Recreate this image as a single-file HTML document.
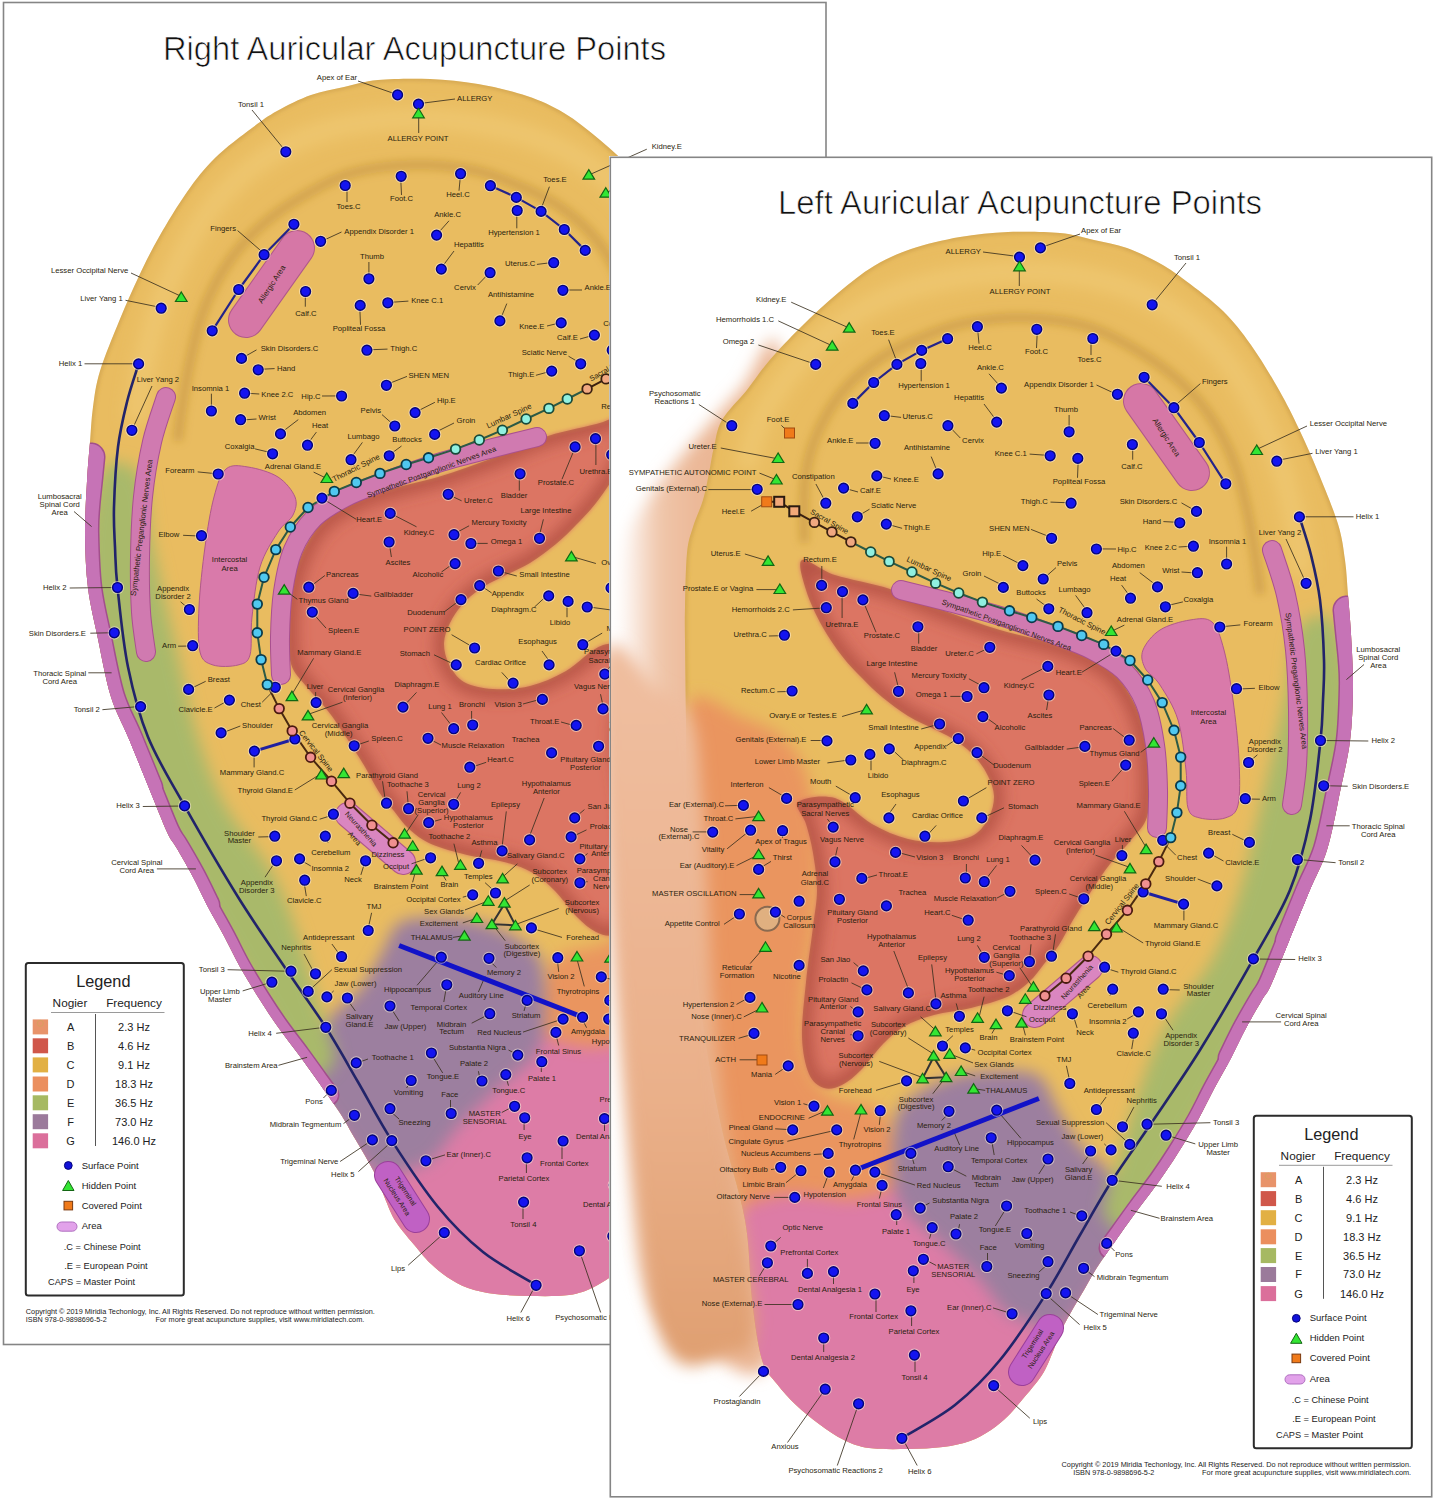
<!DOCTYPE html>
<html><head><meta charset="utf-8"><title>Auricular Acupuncture Points</title>
<style>
html,body{margin:0;padding:0;background:#fff;}
body{width:1435px;height:1500px;overflow:hidden;}
svg{display:block;}
text{font-family:"Liberation Sans",sans-serif;}
</style></head><body>

<svg width="1435" height="1500" viewBox="0 0 1435 1500">
<defs>
<filter id="b2" x="-20%" y="-20%" width="140%" height="140%"><feGaussianBlur stdDeviation="2"/></filter>
<filter id="b4" x="-20%" y="-20%" width="140%" height="140%"><feGaussianBlur stdDeviation="4"/></filter>
<filter id="b8" x="-20%" y="-20%" width="140%" height="140%"><feGaussianBlur stdDeviation="8"/></filter>
<filter id="b14" x="-20%" y="-20%" width="140%" height="140%"><feGaussianBlur stdDeviation="14"/></filter>
<clipPath id="clipL"><path d="M4,3.5 H825 V156 H609 V1343.5 H4 Z"/></clipPath>
<clipPath id="clipEar"><path d="M685,640 C684.8,621.2 684.7,621.5 685,607 C685.3,592.5 685.7,566.3 687,553 C688.3,539.7 690.3,535.8 693,527 C695.7,518.2 700.3,509.0 703,500 C705.7,491.0 707.2,481.8 709,473 C710.8,464.2 711.8,455.8 714,447 C716.2,438.2 716.5,429.5 722,420 C727.5,410.5 739.2,399.8 747,390 C754.8,380.2 760.0,371.5 769,361 C778.0,350.5 789.5,338.3 801,327 C812.5,315.7 825.8,303.2 838,293 C850.2,282.8 861.8,273.3 874,266 C886.2,258.7 896.7,253.8 911,249 C925.3,244.2 943.8,239.8 960,237 C976.2,234.2 991.3,232.7 1008,232 C1024.7,231.3 1045.7,231.7 1060,233 C1074.3,234.3 1082.8,237.5 1094,240 C1105.2,242.5 1115.8,244.0 1127,248 C1138.2,252.0 1151.2,258.5 1161,264 C1170.8,269.5 1175.7,273.2 1186,281 C1196.3,288.8 1212.2,300.3 1223,311 C1233.8,321.7 1241.7,331.8 1251,345 C1260.3,358.2 1271.0,376.0 1279,390 C1287.0,404.0 1292.5,415.3 1299,429 C1305.5,442.7 1311.5,456.2 1318,472 C1324.5,487.8 1333.5,509.3 1338,524 C1342.5,538.7 1343.3,548.2 1345,560 C1346.7,571.8 1347.0,582.7 1348,595 C1349.0,607.3 1350.2,618.7 1351,634 C1351.8,649.3 1353.2,669.2 1353,687 C1352.8,704.8 1352.2,723.5 1350,741 C1347.8,758.5 1343.8,773.8 1340,792 C1336.2,810.2 1332.2,833.3 1327,850 C1321.8,866.7 1315.3,876.8 1309,892 C1302.7,907.2 1295.3,925.5 1289,941 C1282.7,956.5 1275.5,975.2 1271,985 C1266.5,994.8 1266.2,992.8 1262,1000 C1257.8,1007.2 1251.2,1018.3 1246,1028 C1240.8,1037.7 1236.3,1047.8 1231,1058 C1225.7,1068.2 1219.5,1078.7 1214,1089 C1208.5,1099.3 1204.0,1109.3 1198,1120 C1192.0,1130.7 1184.3,1143.0 1178,1153 C1171.7,1163.0 1166.5,1170.8 1160,1180 C1153.5,1189.2 1145.5,1199.2 1139,1208 C1132.5,1216.8 1127.8,1223.3 1121,1233 C1114.2,1242.7 1104.2,1256.5 1098,1266 C1091.8,1275.5 1088.7,1282.0 1084,1290 C1079.3,1298.0 1074.0,1306.8 1070,1314 C1066.0,1321.2 1063.0,1326.3 1060,1333 C1057.0,1339.7 1055.0,1347.0 1052,1354 C1049.0,1361.0 1047.0,1367.3 1042,1375 C1037.0,1382.7 1027.7,1393.2 1022,1400 C1016.3,1406.8 1013.2,1411.0 1008,1416 C1002.8,1421.0 997.3,1425.8 991,1430 C984.7,1434.2 978.0,1438.2 970,1441 C962.0,1443.8 953.3,1445.7 943,1447 C932.7,1448.3 920.3,1448.8 908,1449 C895.7,1449.2 879.7,1449.5 869,1448 C858.3,1446.5 852.3,1444.0 844,1440 C835.7,1436.0 827.0,1429.8 819,1424 C811.0,1418.2 803.0,1411.7 796,1405 C789.0,1398.3 782.7,1391.5 777,1384 C771.3,1376.5 766.2,1374.0 762,1360 C757.8,1346.0 754.8,1323.3 752,1300 C749.2,1276.7 750.3,1250.0 745,1220 C739.7,1190.0 727.5,1156.7 720,1120 C712.5,1083.3 705.3,1045.0 700,1000 C694.7,955.0 690.3,896.7 688,850 C685.7,803.3 686.5,755.0 686,720 C685.5,685.0 685.2,658.8 685,640 Z"/></clipPath>
<linearGradient id="gskin" x1="618" y1="0" x2="700" y2="0" gradientUnits="userSpaceOnUse"><stop offset="0" stop-color="#ffffff"/><stop offset="0.15" stop-color="#fbefe8"/><stop offset="0.5" stop-color="#f0c6aa"/><stop offset="1" stop-color="#ebb796"/></linearGradient>
<linearGradient id="gsoft" x1="0" y1="700" x2="0" y2="1350" gradientUnits="userSpaceOnUse"><stop offset="0" stop-color="#efbd9e"/><stop offset="0.6" stop-color="#eab08a"/><stop offset="1" stop-color="#e0a072"/></linearGradient>
<clipPath id="clipRed"><path d="M802,560 C806.8,557.5 820.3,570.2 835,575 C849.7,579.8 871.7,583.0 890,589 C908.3,595.0 926.7,604.2 945,611 C963.3,617.8 981.7,624.5 1000,630 C1018.3,635.5 1039.7,639.2 1055,644 C1070.3,648.8 1081.7,653.5 1092,659 C1102.3,664.5 1109.7,669.0 1117,677 C1124.3,685.0 1131.0,696.0 1136,707 C1141.0,718.0 1144.7,730.8 1147,743 C1149.3,755.2 1150.0,767.7 1150,780 C1150.0,792.3 1150.0,807.2 1147,817 C1144.0,826.8 1138.2,831.2 1132,839 C1125.8,846.8 1116.7,855.5 1110,864 C1103.3,872.5 1098.2,880.7 1092,890 C1085.8,899.3 1078.5,910.8 1073,920 C1067.5,929.2 1063.8,937.7 1059,945 C1054.2,952.3 1049.0,957.8 1044,964 C1039.0,970.2 1035.2,976.5 1029,982 C1022.8,987.5 1016.7,992.7 1007,997 C997.3,1001.3 983.2,1005.0 971,1008 C958.8,1011.0 945.0,1012.0 934,1015 C923.0,1018.0 913.5,1021.2 905,1026 C896.5,1030.8 890.3,1036.7 883,1044 C875.7,1051.3 867.8,1063.2 861,1070 C854.2,1076.8 848.2,1082.0 842,1085 C835.8,1088.0 829.5,1089.8 824,1088 C818.5,1086.2 812.7,1082.5 809,1074 C805.3,1065.5 802.5,1052.3 802,1037 C801.5,1021.7 804.2,1000.3 806,982 C807.8,963.7 811.2,942.3 813,927 C814.8,911.7 817.0,902.3 817,890 C817.0,877.7 814.8,864.0 813,853 C811.2,842.0 808.5,832.5 806,824 C803.5,815.5 793.2,806.3 798,802 C802.8,797.7 822.7,794.3 835,798 C847.3,801.7 859.8,817.2 872,824 C884.2,830.8 895.8,836.0 908,839 C920.2,842.0 934.0,842.7 945,842 C956.0,841.3 966.7,839.2 974,835 C981.3,830.8 985.7,823.5 989,817 C992.3,810.5 994.2,802.8 994,796 C993.8,789.2 991.0,782.3 988,776 C985.0,769.7 981.0,763.7 976,758 C971.0,752.3 964.7,746.7 958,742 C951.3,737.3 944.3,734.3 936,730 C927.7,725.7 917.0,721.5 908,716 C899.0,710.5 889.7,703.3 882,697 C874.3,690.7 868.7,684.8 862,678 C855.3,671.2 848.7,664.7 842,656 C835.3,647.3 828.0,637.0 822,626 C816.0,615.0 809.3,601.0 806,590 C802.7,579.0 797.2,562.5 802,560 Z"/></clipPath>
<clipPath id="clipR"><rect x="611" y="158" width="820" height="1338"/></clipPath>
<g id="ear">
<path d="M780,350 C772.0,314.7 754.3,375.0 742,388 C729.7,401.0 718.0,414.3 706,428 C694.0,441.7 680.7,456.3 670,470 C659.3,483.7 649.5,495.8 642,510 C634.5,524.2 629.0,523.3 625,555 C621.0,586.7 618.8,634.2 618,700 C617.2,765.8 618.7,866.7 620,950 C621.3,1033.3 621.8,1143.0 626,1200 C630.2,1257.0 636.8,1270.0 645,1292 C653.2,1314.0 665.0,1322.0 675,1332 C685.0,1342.0 688.8,1348.0 705,1352 C721.2,1356.0 757.8,1398.0 772,1356 C786.2,1314.0 787.0,1226.0 790,1100 C793.0,974.0 791.7,725.0 790,600 C788.3,475.0 788.0,385.3 780,350 Z" fill="url(#gskin)" filter="url(#b8)"/>
<path d="M685,640 C684.8,621.2 684.7,621.5 685,607 C685.3,592.5 685.7,566.3 687,553 C688.3,539.7 690.3,535.8 693,527 C695.7,518.2 700.3,509.0 703,500 C705.7,491.0 707.2,481.8 709,473 C710.8,464.2 711.8,455.8 714,447 C716.2,438.2 716.5,429.5 722,420 C727.5,410.5 739.2,399.8 747,390 C754.8,380.2 760.0,371.5 769,361 C778.0,350.5 789.5,338.3 801,327 C812.5,315.7 825.8,303.2 838,293 C850.2,282.8 861.8,273.3 874,266 C886.2,258.7 896.7,253.8 911,249 C925.3,244.2 943.8,239.8 960,237 C976.2,234.2 991.3,232.7 1008,232 C1024.7,231.3 1045.7,231.7 1060,233 C1074.3,234.3 1082.8,237.5 1094,240 C1105.2,242.5 1115.8,244.0 1127,248 C1138.2,252.0 1151.2,258.5 1161,264 C1170.8,269.5 1175.7,273.2 1186,281 C1196.3,288.8 1212.2,300.3 1223,311 C1233.8,321.7 1241.7,331.8 1251,345 C1260.3,358.2 1271.0,376.0 1279,390 C1287.0,404.0 1292.5,415.3 1299,429 C1305.5,442.7 1311.5,456.2 1318,472 C1324.5,487.8 1333.5,509.3 1338,524 C1342.5,538.7 1343.3,548.2 1345,560 C1346.7,571.8 1347.0,582.7 1348,595 C1349.0,607.3 1350.2,618.7 1351,634 C1351.8,649.3 1353.2,669.2 1353,687 C1352.8,704.8 1352.2,723.5 1350,741 C1347.8,758.5 1343.8,773.8 1340,792 C1336.2,810.2 1332.2,833.3 1327,850 C1321.8,866.7 1315.3,876.8 1309,892 C1302.7,907.2 1295.3,925.5 1289,941 C1282.7,956.5 1275.5,975.2 1271,985 C1266.5,994.8 1266.2,992.8 1262,1000 C1257.8,1007.2 1251.2,1018.3 1246,1028 C1240.8,1037.7 1236.3,1047.8 1231,1058 C1225.7,1068.2 1219.5,1078.7 1214,1089 C1208.5,1099.3 1204.0,1109.3 1198,1120 C1192.0,1130.7 1184.3,1143.0 1178,1153 C1171.7,1163.0 1166.5,1170.8 1160,1180 C1153.5,1189.2 1145.5,1199.2 1139,1208 C1132.5,1216.8 1127.8,1223.3 1121,1233 C1114.2,1242.7 1104.2,1256.5 1098,1266 C1091.8,1275.5 1088.7,1282.0 1084,1290 C1079.3,1298.0 1074.0,1306.8 1070,1314 C1066.0,1321.2 1063.0,1326.3 1060,1333 C1057.0,1339.7 1055.0,1347.0 1052,1354 C1049.0,1361.0 1047.0,1367.3 1042,1375 C1037.0,1382.7 1027.7,1393.2 1022,1400 C1016.3,1406.8 1013.2,1411.0 1008,1416 C1002.8,1421.0 997.3,1425.8 991,1430 C984.7,1434.2 978.0,1438.2 970,1441 C962.0,1443.8 953.3,1445.7 943,1447 C932.7,1448.3 920.3,1448.8 908,1449 C895.7,1449.2 879.7,1449.5 869,1448 C858.3,1446.5 852.3,1444.0 844,1440 C835.7,1436.0 827.0,1429.8 819,1424 C811.0,1418.2 803.0,1411.7 796,1405 C789.0,1398.3 782.7,1391.5 777,1384 C771.3,1376.5 766.2,1374.0 762,1360 C757.8,1346.0 754.8,1323.3 752,1300 C749.2,1276.7 750.3,1250.0 745,1220 C739.7,1190.0 727.5,1156.7 720,1120 C712.5,1083.3 705.3,1045.0 700,1000 C694.7,955.0 690.3,896.7 688,850 C685.7,803.3 686.5,755.0 686,720 C685.5,685.0 685.2,658.8 685,640 Z" fill="#e9bc60"/>
<g clip-path="url(#clipEar)">
<path d="M745,470 C747.5,461.7 753.3,435.0 760,420 C766.7,405.0 775.0,393.3 785,380 C795.0,366.7 805.8,352.5 820,340 C834.2,327.5 851.7,314.5 870,305 C888.3,295.5 906.7,288.5 930,283 C953.3,277.5 983.3,272.8 1010,272 C1036.7,271.2 1066.7,273.7 1090,278 C1113.3,282.3 1132.0,289.3 1150,298 C1168.0,306.7 1183.8,317.7 1198,330 C1212.2,342.3 1224.3,357.0 1235,372 C1245.7,387.0 1254.2,403.7 1262,420 C1269.8,436.3 1276.5,452.5 1282,470 C1287.5,487.5 1291.7,507.5 1295,525 C1298.3,542.5 1300.8,566.7 1302,575" fill="none" stroke="#f1cd78" stroke-opacity="0.6" stroke-width="22" filter="url(#b8)"/>
<path d="M804.2,542.8 C804.3,532.9 803.0,500.4 804.7,483.4 C806.4,466.4 808.6,455.3 814.3,440.8 C820.0,426.3 828.8,409.2 838.8,396.2 C848.8,383.1 861.2,371.9 874.2,362.5 C887.2,353.1 901.3,346.3 916.6,339.7 C931.9,333.1 947.1,326.5 966.0,322.9 C984.9,319.3 1009.5,317.3 1030.1,318.0 C1050.6,318.7 1071.4,321.5 1089.3,327.0 C1107.2,332.5 1123.7,342.7 1137.7,350.8 C1151.7,358.9 1162.6,366.8 1173.1,375.6 C1183.6,384.4 1192.4,393.3 1200.6,403.4 C1208.8,413.5 1216.2,425.0 1222.2,436.1 C1228.2,447.2 1232.6,457.2 1236.8,469.8 C1241.0,482.4 1244.3,497.6 1247.3,511.4 C1250.3,525.2 1252.7,539.0 1254.9,552.8 C1257.1,566.6 1259.6,587.3 1260.5,594.2" fill="none" stroke="#a06a22" stroke-opacity="0.32" stroke-width="9" filter="url(#b4)"/>
<path d="M685,640 C684.8,621.2 684.7,621.5 685,607 C685.3,592.5 685.7,566.3 687,553 C688.3,539.7 690.3,535.8 693,527 C695.7,518.2 700.3,509.0 703,500 C705.7,491.0 707.2,481.8 709,473 C710.8,464.2 711.8,455.8 714,447 C716.2,438.2 716.5,429.5 722,420 C727.5,410.5 739.2,399.8 747,390 C754.8,380.2 760.0,371.5 769,361 C778.0,350.5 789.5,338.3 801,327 C812.5,315.7 825.8,303.2 838,293 C850.2,282.8 861.8,273.3 874,266 C886.2,258.7 896.7,253.8 911,249 C925.3,244.2 943.8,239.8 960,237 C976.2,234.2 991.3,232.7 1008,232 C1024.7,231.3 1045.7,231.7 1060,233 C1074.3,234.3 1082.8,237.5 1094,240 C1105.2,242.5 1115.8,244.0 1127,248 C1138.2,252.0 1151.2,258.5 1161,264 C1170.8,269.5 1175.7,273.2 1186,281 C1196.3,288.8 1212.2,300.3 1223,311 C1233.8,321.7 1241.7,331.8 1251,345 C1260.3,358.2 1271.0,376.0 1279,390 C1287.0,404.0 1292.5,415.3 1299,429 C1305.5,442.7 1311.5,456.2 1318,472 C1324.5,487.8 1333.5,509.3 1338,524 C1342.5,538.7 1343.3,548.2 1345,560 C1346.7,571.8 1347.0,582.7 1348,595 C1349.0,607.3 1350.2,618.7 1351,634 C1351.8,649.3 1353.2,669.2 1353,687 C1352.8,704.8 1352.2,723.5 1350,741 C1347.8,758.5 1343.8,773.8 1340,792 C1336.2,810.2 1332.2,833.3 1327,850 C1321.8,866.7 1315.3,876.8 1309,892 C1302.7,907.2 1295.3,925.5 1289,941 C1282.7,956.5 1275.5,975.2 1271,985 C1266.5,994.8 1266.2,992.8 1262,1000 C1257.8,1007.2 1251.2,1018.3 1246,1028 C1240.8,1037.7 1236.3,1047.8 1231,1058 C1225.7,1068.2 1219.5,1078.7 1214,1089 C1208.5,1099.3 1204.0,1109.3 1198,1120 C1192.0,1130.7 1184.3,1143.0 1178,1153 C1171.7,1163.0 1166.5,1170.8 1160,1180 C1153.5,1189.2 1145.5,1199.2 1139,1208 C1132.5,1216.8 1127.8,1223.3 1121,1233 C1114.2,1242.7 1104.2,1256.5 1098,1266 C1091.8,1275.5 1088.7,1282.0 1084,1290 C1079.3,1298.0 1074.0,1306.8 1070,1314 C1066.0,1321.2 1063.0,1326.3 1060,1333 C1057.0,1339.7 1055.0,1347.0 1052,1354 C1049.0,1361.0 1047.0,1367.3 1042,1375 C1037.0,1382.7 1027.7,1393.2 1022,1400 C1016.3,1406.8 1013.2,1411.0 1008,1416 C1002.8,1421.0 997.3,1425.8 991,1430 C984.7,1434.2 978.0,1438.2 970,1441 C962.0,1443.8 953.3,1445.7 943,1447 C932.7,1448.3 920.3,1448.8 908,1449 C895.7,1449.2 879.7,1449.5 869,1448 C858.3,1446.5 852.3,1444.0 844,1440 C835.7,1436.0 827.0,1429.8 819,1424 C811.0,1418.2 803.0,1411.7 796,1405 C789.0,1398.3 782.7,1391.5 777,1384 C771.3,1376.5 766.2,1374.0 762,1360 C757.8,1346.0 754.8,1323.3 752,1300 C749.2,1276.7 750.3,1250.0 745,1220 C739.7,1190.0 727.5,1156.7 720,1120 C712.5,1083.3 705.3,1045.0 700,1000 C694.7,955.0 690.3,896.7 688,850 C685.7,803.3 686.5,755.0 686,720 C685.5,685.0 685.2,658.8 685,640 Z" fill="none" stroke="#b8883a" stroke-opacity="0.6" stroke-width="3" filter="url(#b2)"/>
<path d="M688,705 C697.5,683.0 727.2,712.5 743,718 C758.8,723.5 772.7,729.3 783,738 C793.3,746.7 799.7,756.3 805,770 C810.3,783.7 812.8,801.7 815,820 C817.2,838.3 818.5,860.0 818,880 C817.5,900.0 814.5,920.0 812,940 C809.5,960.0 804.0,980.0 803,1000 C802.0,1020.0 801.5,1044.2 806,1060 C810.5,1075.8 817.7,1086.7 830,1095 C842.3,1103.3 868.3,1100.8 880,1110 C891.7,1119.2 896.7,1132.5 900,1150 C903.3,1167.5 908.3,1202.5 900,1215 C891.7,1227.5 868.3,1223.8 850,1225 C831.7,1226.2 806.7,1222.0 790,1222 C773.3,1222.0 761.7,1237.0 750,1225 C738.3,1213.0 729.2,1187.5 720,1150 C710.8,1112.5 700.7,1050.0 695,1000 C689.3,950.0 687.2,899.2 686,850 C684.8,800.8 678.5,727.0 688,705 Z" fill="#ea955e" filter="url(#b8)"/>
<path d="M735,1212 C748.3,1201.2 765.8,1197.7 780,1195 C794.2,1192.3 808.3,1195.2 820,1196 C831.7,1196.8 838.3,1201.0 850,1200 C861.7,1199.0 878.3,1194.7 890,1190 C901.7,1185.3 908.3,1177.0 920,1172 C931.7,1167.0 946.7,1160.7 960,1160 C973.3,1159.3 986.7,1162.2 1000,1168 C1013.3,1173.8 1026.7,1185.5 1040,1195 C1053.3,1204.5 1068.3,1216.2 1080,1225 C1091.7,1233.8 1098.3,1238.8 1110,1248 C1121.7,1257.2 1151.7,1239.7 1150,1280 C1148.3,1320.3 1175.0,1455.0 1100,1490 C1025.0,1525.0 766.7,1528.3 700,1490 C633.3,1451.7 694.2,1306.3 700,1260 C705.8,1213.7 721.7,1222.8 735,1212 Z" fill="#dd7ca6" filter="url(#b8)"/>
<path d="M894,1126 C896.3,1109.0 901.0,1105.5 912,1097 C923.0,1088.5 942.8,1079.3 960,1075 C977.2,1070.7 1001.5,1070.5 1015,1071 C1028.5,1071.5 1034.3,1072.5 1041,1078 C1047.7,1083.5 1049.0,1093.5 1055,1104 C1061.0,1114.5 1069.0,1130.8 1077,1141 C1085.0,1151.2 1095.0,1157.7 1103,1165 C1111.0,1172.3 1116.3,1180.0 1125,1185 C1133.7,1190.0 1152.5,1187.8 1155,1195 C1157.5,1202.2 1147.2,1216.8 1140,1228 C1132.8,1239.2 1120.7,1250.7 1112,1262 C1103.3,1273.3 1095.3,1286.0 1088,1296 C1080.7,1306.0 1074.7,1316.3 1068,1322 C1061.3,1327.7 1054.7,1330.0 1048,1330 C1041.3,1330.0 1035.2,1325.0 1028,1322 C1020.8,1319.0 1013.0,1319.0 1005,1312 C997.0,1305.0 990.5,1291.5 980,1280 C969.5,1268.5 955.7,1256.5 942,1243 C928.3,1229.5 906.0,1218.5 898,1199 C890.0,1179.5 891.7,1143.0 894,1126 Z" fill="#9c7f9f" filter="url(#b8)"/>
<path d="M1298,628 C1306.3,615.0 1326.0,610.0 1335,622 C1344.0,634.0 1350.3,670.3 1352,700 C1353.7,729.7 1349.5,773.3 1345,800 C1340.5,826.7 1333.3,836.7 1325,860 C1316.7,883.3 1306.7,913.3 1295,940 C1283.3,966.7 1267.5,996.7 1255,1020 C1242.5,1043.3 1231.7,1060.0 1220,1080 C1208.3,1100.0 1196.7,1120.0 1185,1140 C1173.3,1160.0 1159.5,1184.7 1150,1200 C1140.5,1215.3 1135.7,1229.5 1128,1232 C1120.3,1234.5 1107.3,1222.0 1104,1215 C1100.7,1208.0 1105.7,1199.2 1108,1190 C1110.3,1180.8 1113.0,1176.0 1118,1160 C1123.0,1144.0 1130.2,1116.2 1138,1094 C1145.8,1071.8 1152.7,1049.3 1165,1027 C1177.3,1004.7 1199.5,982.8 1212,960 C1224.5,937.2 1231.7,916.7 1240,890 C1248.3,863.3 1254.5,831.7 1262,800 C1269.5,768.3 1279.0,728.7 1285,700 C1291.0,671.3 1289.7,641.0 1298,628 Z" fill="#a9b96b" filter="url(#b8)"/>
<path d="M802,560 C806.8,557.5 820.3,570.2 835,575 C849.7,579.8 871.7,583.0 890,589 C908.3,595.0 926.7,604.2 945,611 C963.3,617.8 981.7,624.5 1000,630 C1018.3,635.5 1039.7,639.2 1055,644 C1070.3,648.8 1081.7,653.5 1092,659 C1102.3,664.5 1109.7,669.0 1117,677 C1124.3,685.0 1131.0,696.0 1136,707 C1141.0,718.0 1144.7,730.8 1147,743 C1149.3,755.2 1150.0,767.7 1150,780 C1150.0,792.3 1150.0,807.2 1147,817 C1144.0,826.8 1138.2,831.2 1132,839 C1125.8,846.8 1116.7,855.5 1110,864 C1103.3,872.5 1098.2,880.7 1092,890 C1085.8,899.3 1078.5,910.8 1073,920 C1067.5,929.2 1063.8,937.7 1059,945 C1054.2,952.3 1049.0,957.8 1044,964 C1039.0,970.2 1035.2,976.5 1029,982 C1022.8,987.5 1016.7,992.7 1007,997 C997.3,1001.3 983.2,1005.0 971,1008 C958.8,1011.0 945.0,1012.0 934,1015 C923.0,1018.0 913.5,1021.2 905,1026 C896.5,1030.8 890.3,1036.7 883,1044 C875.7,1051.3 867.8,1063.2 861,1070 C854.2,1076.8 848.2,1082.0 842,1085 C835.8,1088.0 829.5,1089.8 824,1088 C818.5,1086.2 812.7,1082.5 809,1074 C805.3,1065.5 802.5,1052.3 802,1037 C801.5,1021.7 804.2,1000.3 806,982 C807.8,963.7 811.2,942.3 813,927 C814.8,911.7 817.0,902.3 817,890 C817.0,877.7 814.8,864.0 813,853 C811.2,842.0 808.5,832.5 806,824 C803.5,815.5 793.2,806.3 798,802 C802.8,797.7 822.7,794.3 835,798 C847.3,801.7 859.8,817.2 872,824 C884.2,830.8 895.8,836.0 908,839 C920.2,842.0 934.0,842.7 945,842 C956.0,841.3 966.7,839.2 974,835 C981.3,830.8 985.7,823.5 989,817 C992.3,810.5 994.2,802.8 994,796 C993.8,789.2 991.0,782.3 988,776 C985.0,769.7 981.0,763.7 976,758 C971.0,752.3 964.7,746.7 958,742 C951.3,737.3 944.3,734.3 936,730 C927.7,725.7 917.0,721.5 908,716 C899.0,710.5 889.7,703.3 882,697 C874.3,690.7 868.7,684.8 862,678 C855.3,671.2 848.7,664.7 842,656 C835.3,647.3 828.0,637.0 822,626 C816.0,615.0 809.3,601.0 806,590 C802.7,579.0 797.2,562.5 802,560 Z" fill="#dc7463" filter="url(#b2)"/>
<g clip-path="url(#clipRed)"><path d="M802,560 C806.8,557.5 820.3,570.2 835,575 C849.7,579.8 871.7,583.0 890,589 C908.3,595.0 926.7,604.2 945,611 C963.3,617.8 981.7,624.5 1000,630 C1018.3,635.5 1039.7,639.2 1055,644 C1070.3,648.8 1081.7,653.5 1092,659 C1102.3,664.5 1109.7,669.0 1117,677 C1124.3,685.0 1131.0,696.0 1136,707 C1141.0,718.0 1144.7,730.8 1147,743 C1149.3,755.2 1150.0,767.7 1150,780 C1150.0,792.3 1150.0,807.2 1147,817 C1144.0,826.8 1138.2,831.2 1132,839 C1125.8,846.8 1116.7,855.5 1110,864 C1103.3,872.5 1098.2,880.7 1092,890 C1085.8,899.3 1078.5,910.8 1073,920 C1067.5,929.2 1063.8,937.7 1059,945 C1054.2,952.3 1049.0,957.8 1044,964 C1039.0,970.2 1035.2,976.5 1029,982 C1022.8,987.5 1016.7,992.7 1007,997 C997.3,1001.3 983.2,1005.0 971,1008 C958.8,1011.0 945.0,1012.0 934,1015 C923.0,1018.0 913.5,1021.2 905,1026 C896.5,1030.8 890.3,1036.7 883,1044 C875.7,1051.3 867.8,1063.2 861,1070 C854.2,1076.8 848.2,1082.0 842,1085 C835.8,1088.0 829.5,1089.8 824,1088 C818.5,1086.2 812.7,1082.5 809,1074 C805.3,1065.5 802.5,1052.3 802,1037 C801.5,1021.7 804.2,1000.3 806,982 C807.8,963.7 811.2,942.3 813,927 C814.8,911.7 817.0,902.3 817,890 C817.0,877.7 814.8,864.0 813,853 C811.2,842.0 808.5,832.5 806,824 C803.5,815.5 793.2,806.3 798,802 C802.8,797.7 822.7,794.3 835,798 C847.3,801.7 859.8,817.2 872,824 C884.2,830.8 895.8,836.0 908,839 C920.2,842.0 934.0,842.7 945,842 C956.0,841.3 966.7,839.2 974,835 C981.3,830.8 985.7,823.5 989,817 C992.3,810.5 994.2,802.8 994,796 C993.8,789.2 991.0,782.3 988,776 C985.0,769.7 981.0,763.7 976,758 C971.0,752.3 964.7,746.7 958,742 C951.3,737.3 944.3,734.3 936,730 C927.7,725.7 917.0,721.5 908,716 C899.0,710.5 889.7,703.3 882,697 C874.3,690.7 868.7,684.8 862,678 C855.3,671.2 848.7,664.7 842,656 C835.3,647.3 828.0,637.0 822,626 C816.0,615.0 809.3,601.0 806,590 C802.7,579.0 797.2,562.5 802,560 Z" fill="none" stroke="#a84638" stroke-opacity="0.75" stroke-width="18" filter="url(#b8)"/></g>
<path d="M1347,610 C1347.3,613.3 1348.2,621.7 1349,630 C1349.8,638.3 1351.3,650.5 1352,660 C1352.7,669.5 1353.3,673.5 1353,687 C1352.7,700.5 1352.2,723.5 1350,741 C1347.8,758.5 1343.8,773.8 1340,792 C1336.2,810.2 1332.2,833.3 1327,850 C1321.8,866.7 1315.3,876.8 1309,892 C1302.7,907.2 1292.3,932.8 1289,941" fill="none" stroke="#a24f8c" stroke-width="29" stroke-linecap="round"/>
<path d="M1309,892 C1305.7,900.2 1295.3,925.5 1289,941 C1282.7,956.5 1275.5,975.2 1271,985 C1266.5,994.8 1266.2,992.8 1262,1000 C1257.8,1007.2 1251.2,1018.3 1246,1028 C1240.8,1037.7 1233.5,1053.0 1231,1058" fill="none" stroke="#a24f8c" stroke-width="27" stroke-linecap="round"/>
<path d="M1246,1028 C1243.5,1033.0 1236.3,1047.8 1231,1058 C1225.7,1068.2 1219.5,1078.7 1214,1089 C1208.5,1099.3 1204.0,1109.3 1198,1120 C1192.0,1130.7 1184.3,1143.0 1178,1153 C1171.7,1163.0 1166.5,1170.8 1160,1180 C1153.5,1189.2 1145.5,1199.2 1139,1208 C1132.5,1216.8 1125.8,1226.3 1121,1233 C1116.2,1239.7 1111.8,1245.5 1110,1248" fill="none" stroke="#a24f8c" stroke-width="23" stroke-linecap="round"/>
<path d="M1347,610 C1347.3,613.3 1348.2,621.7 1349,630 C1349.8,638.3 1351.3,650.5 1352,660 C1352.7,669.5 1353.3,673.5 1353,687 C1352.7,700.5 1352.2,723.5 1350,741 C1347.8,758.5 1343.8,773.8 1340,792 C1336.2,810.2 1332.2,833.3 1327,850 C1321.8,866.7 1315.3,876.8 1309,892 C1302.7,907.2 1292.3,932.8 1289,941" fill="none" stroke="#c673b6" stroke-width="26" stroke-linecap="round"/>
<path d="M1309,892 C1305.7,900.2 1295.3,925.5 1289,941 C1282.7,956.5 1275.5,975.2 1271,985 C1266.5,994.8 1266.2,992.8 1262,1000 C1257.8,1007.2 1251.2,1018.3 1246,1028 C1240.8,1037.7 1233.5,1053.0 1231,1058" fill="none" stroke="#c673b6" stroke-width="24" stroke-linecap="round"/>
<path d="M1246,1028 C1243.5,1033.0 1236.3,1047.8 1231,1058 C1225.7,1068.2 1219.5,1078.7 1214,1089 C1208.5,1099.3 1204.0,1109.3 1198,1120 C1192.0,1130.7 1184.3,1143.0 1178,1153 C1171.7,1163.0 1166.5,1170.8 1160,1180 C1153.5,1189.2 1145.5,1199.2 1139,1208 C1132.5,1216.8 1125.8,1226.3 1121,1233 C1116.2,1239.7 1111.8,1245.5 1110,1248" fill="none" stroke="#c673b6" stroke-width="20" stroke-linecap="round"/>
</g>
<path d="M600,690 C601.7,588.3 644.7,685.0 660,690 C675.3,695.0 685.0,701.7 692,720 C699.0,738.3 699.3,770.0 702,800 C704.7,830.0 706.2,866.7 708,900 C709.8,933.3 710.7,966.7 713,1000 C715.3,1033.3 717.8,1066.7 722,1100 C726.2,1133.3 733.3,1170.0 738,1200 C742.7,1230.0 747.3,1258.3 750,1280 C752.7,1301.7 756.5,1318.0 754,1330 C751.5,1342.0 752.3,1357.0 735,1352 C717.7,1347.0 672.5,1410.3 650,1300 C627.5,1189.7 598.3,791.7 600,690 Z" fill="url(#gsoft)" filter="url(#b8)"/>
<line x1="1141" y1="401" x2="1192" y2="473" stroke="#b0588a" stroke-width="36" stroke-linecap="round"/><line x1="1141" y1="401" x2="1192" y2="473" stroke="#d677a6" stroke-width="34" stroke-linecap="round"/>
<path d="M1143,650 C1145.5,643.7 1152.2,635.0 1160,630 C1167.8,625.0 1181.3,621.3 1190,620 C1198.7,618.7 1206.3,617.0 1212,622 C1217.7,627.0 1220.5,637.0 1224,650 C1227.5,663.0 1230.5,681.7 1233,700 C1235.5,718.3 1238.2,742.5 1239,760 C1239.8,777.5 1240.3,795.3 1238,805 C1235.7,814.7 1231.3,815.8 1225,818 C1218.7,820.2 1206.2,819.7 1200,818 C1193.8,816.3 1190.3,816.0 1188,808 C1185.7,800.0 1187.7,784.7 1186,770 C1184.3,755.3 1182.3,734.2 1178,720 C1173.7,705.8 1165.5,693.7 1160,685 C1154.5,676.3 1147.8,673.8 1145,668 C1142.2,662.2 1140.5,656.3 1143,650 Z" fill="#d97aaa" stroke="#b0588a" stroke-width="1"/>
<path d="M901,590 C908.3,591.8 928.5,596.7 945,601 C961.5,605.3 981.7,610.3 1000,616 C1018.3,621.7 1039.7,629.3 1055,635 C1070.3,640.7 1080.5,644.0 1092,650 C1103.5,656.0 1115.2,662.2 1124,671 C1132.8,679.8 1139.8,690.7 1145,703 C1150.2,715.3 1152.8,730.5 1155,745 C1157.2,759.5 1157.7,776.2 1158,790 C1158.3,803.8 1157.2,821.7 1157,828" fill="none" stroke="#a9508f" stroke-width="20" stroke-linecap="round"/>
<path d="M901,590 C908.3,591.8 928.5,596.7 945,601 C961.5,605.3 981.7,610.3 1000,616 C1018.3,621.7 1039.7,629.3 1055,635 C1070.3,640.7 1080.5,644.0 1092,650 C1103.5,656.0 1115.2,662.2 1124,671 C1132.8,679.8 1139.8,690.7 1145,703 C1150.2,715.3 1152.8,730.5 1155,745 C1157.2,759.5 1157.7,776.2 1158,790 C1158.3,803.8 1157.2,821.7 1157,828" fill="none" stroke="#d07ab0" stroke-width="18" stroke-linecap="round"/>
<path d="M1272,550 C1274.3,557.5 1282.2,578.3 1286,595 C1289.8,611.7 1293.0,630.8 1295,650 C1297.0,669.2 1297.7,690.8 1298,710 C1298.3,729.2 1298.0,749.2 1297,765 C1296.0,780.8 1292.8,798.3 1292,805" fill="none" stroke="#a9508f" stroke-width="20" stroke-linecap="round"/>
<path d="M1272,550 C1274.3,557.5 1282.2,578.3 1286,595 C1289.8,611.7 1293.0,630.8 1295,650 C1297.0,669.2 1297.7,690.8 1298,710 C1298.3,729.2 1298.0,749.2 1297,765 C1296.0,780.8 1292.8,798.3 1292,805" fill="none" stroke="#d07ab0" stroke-width="18" stroke-linecap="round"/>
<line x1="1035" y1="1015" x2="1090" y2="968" stroke="#b0588a" stroke-width="26" stroke-linecap="round"/><line x1="1035" y1="1015" x2="1090" y2="968" stroke="#da86c0" stroke-width="24" stroke-linecap="round"/>
<line x1="1050" y1="1328" x2="1022" y2="1372" stroke="#9a3f9a" stroke-width="28" stroke-linecap="round"/><line x1="1050" y1="1328" x2="1022" y2="1372" stroke="#c061c4" stroke-width="26" stroke-linecap="round"/>
</g>
<g id="earfg">
<path d="M1299.4,516.9 C1301.3,523.2 1307.6,541.1 1311,555 C1314.4,568.9 1317.8,582.5 1320,600 C1322.2,617.5 1323.5,643.3 1324,660 C1324.5,676.7 1323.6,686.6 1323,700 C1322.4,713.4 1322.7,720.5 1320.5,740.5 C1318.3,760.5 1315.1,795.1 1310,820 C1304.9,844.9 1299.4,866.9 1290,890 C1280.6,913.1 1268.4,932.2 1253.4,958.9 C1238.4,985.6 1217.2,1022.3 1200,1050 C1182.8,1077.7 1164.6,1103.3 1150,1125 C1135.4,1146.7 1123.9,1162.0 1112.2,1180.3 C1100.5,1198.6 1091.0,1216.1 1080,1235 C1069.0,1253.9 1059.5,1272.8 1046.2,1293.6 C1032.9,1314.4 1015.2,1341.4 1000,1360 C984.8,1378.6 971.3,1392.0 955,1405 C938.7,1418.0 911.2,1432.2 902.4,1437.7" fill="none" stroke="#22246a" stroke-width="2.6"/>
<polyline points="852.8,403.4 873.7,382.5 896.9,364.4 921.7,350.4 947.6,338.7" fill="none" stroke="#23238a" stroke-width="2.2" stroke-linejoin="round"/>
<polyline points="1144.1,377.3 1173.9,407.7 1199.3,442.5 1225.8,483.8" fill="none" stroke="#23238a" stroke-width="2.2" stroke-linejoin="round"/>
<line x1="855.5" y1="1170" x2="1038.9" y2="1098.5" stroke="#1212c8" stroke-width="5"/>
<line x1="1143.1" y1="892" x2="1183.6" y2="904.1" stroke="#2020a0" stroke-width="3"/>
<polyline points="766.7,501.8 779.2,501.8 794.3,511.3 814.4,522.4 831.9,531.9 850.9,541.9" fill="none" stroke="#3a2010" stroke-width="2" stroke-linejoin="round"/>
<polyline points="850.9,541.9 870.7,552 889.1,561.4 911.9,572 935.6,583.2 958.7,593 982.4,602.1 1009.5,610.8 1031.8,617.5 1058,626.4 1081.7,635.5 1103.7,644.4 1130,660.5 1147.7,680 1162.2,702.6 1174,730.3 1180.7,757.1 1180.7,785.8 1176.9,812.6 1170.7,837.6" fill="none" stroke="#2d5a45" stroke-width="2" stroke-linejoin="round"/>
<polyline points="1170.7,837.6 1158.8,861.6 1145.8,883.9 1127.4,910.3 1106.5,934.2 1088.1,956.2 1066.1,978.2 1044.9,995.8" fill="none" stroke="#4a2a10" stroke-width="2" stroke-linejoin="round"/>
<polygon points="933.6,1057 922.6,1078.3 946.1,1077.2" fill="none" stroke="#333" stroke-width="2"/>
<circle cx="767.4" cy="918.8" r="12" fill="#e0b080" stroke="#8a6a50" stroke-width="2"/>
<circle cx="1040.4" cy="247.9" r="6.6" fill="#fff3dc" fill-opacity="0.55"/>
<circle cx="1019.5" cy="257.1" r="6.6" fill="#fff3dc" fill-opacity="0.55"/>
<circle cx="815.7" cy="364.4" r="6.6" fill="#fff3dc" fill-opacity="0.55"/>
<circle cx="977.4" cy="326.7" r="6.6" fill="#fff3dc" fill-opacity="0.55"/>
<circle cx="1036.8" cy="329.3" r="6.6" fill="#fff3dc" fill-opacity="0.55"/>
<circle cx="1092.8" cy="338.5" r="6.6" fill="#fff3dc" fill-opacity="0.55"/>
<circle cx="947.6" cy="338.7" r="6.6" fill="#fff3dc" fill-opacity="0.55"/>
<circle cx="921.7" cy="350.4" r="6.6" fill="#fff3dc" fill-opacity="0.55"/>
<circle cx="896.9" cy="364.4" r="6.6" fill="#fff3dc" fill-opacity="0.55"/>
<circle cx="873.7" cy="382.5" r="6.6" fill="#fff3dc" fill-opacity="0.55"/>
<circle cx="852.8" cy="403.4" r="6.6" fill="#fff3dc" fill-opacity="0.55"/>
<circle cx="920.8" cy="363.5" r="6.6" fill="#fff3dc" fill-opacity="0.55"/>
<circle cx="1001.4" cy="388.1" r="6.6" fill="#fff3dc" fill-opacity="0.55"/>
<circle cx="731.8" cy="425.7" r="6.6" fill="#fff3dc" fill-opacity="0.55"/>
<circle cx="884.3" cy="415.7" r="6.6" fill="#fff3dc" fill-opacity="0.55"/>
<circle cx="996.7" cy="422.1" r="6.6" fill="#fff3dc" fill-opacity="0.55"/>
<circle cx="947.9" cy="425.7" r="6.6" fill="#fff3dc" fill-opacity="0.55"/>
<circle cx="1069.1" cy="431.8" r="6.6" fill="#fff3dc" fill-opacity="0.55"/>
<circle cx="875.1" cy="443.3" r="6.6" fill="#fff3dc" fill-opacity="0.55"/>
<circle cx="1050.2" cy="455.8" r="6.6" fill="#fff3dc" fill-opacity="0.55"/>
<circle cx="1077.8" cy="458.4" r="6.6" fill="#fff3dc" fill-opacity="0.55"/>
<circle cx="938.1" cy="473.9" r="6.6" fill="#fff3dc" fill-opacity="0.55"/>
<circle cx="876.8" cy="475.9" r="6.6" fill="#fff3dc" fill-opacity="0.55"/>
<circle cx="757.2" cy="489.3" r="6.6" fill="#fff3dc" fill-opacity="0.55"/>
<circle cx="843.6" cy="488.1" r="6.6" fill="#fff3dc" fill-opacity="0.55"/>
<circle cx="825.8" cy="503.2" r="6.6" fill="#fff3dc" fill-opacity="0.55"/>
<circle cx="1071.1" cy="503.2" r="6.6" fill="#fff3dc" fill-opacity="0.55"/>
<circle cx="857.3" cy="516.8" r="6.6" fill="#fff3dc" fill-opacity="0.55"/>
<circle cx="886.3" cy="524.1" r="6.6" fill="#fff3dc" fill-opacity="0.55"/>
<circle cx="1051.6" cy="538.3" r="6.6" fill="#fff3dc" fill-opacity="0.55"/>
<circle cx="1022.9" cy="565.6" r="6.6" fill="#fff3dc" fill-opacity="0.55"/>
<circle cx="1043.2" cy="579" r="6.6" fill="#fff3dc" fill-opacity="0.55"/>
<circle cx="1003.3" cy="587.4" r="6.6" fill="#fff3dc" fill-opacity="0.55"/>
<circle cx="1048.8" cy="608.8" r="6.6" fill="#fff3dc" fill-opacity="0.55"/>
<circle cx="821.6" cy="585.4" r="6.6" fill="#fff3dc" fill-opacity="0.55"/>
<circle cx="842.5" cy="591.6" r="6.6" fill="#fff3dc" fill-opacity="0.55"/>
<circle cx="862.9" cy="599.9" r="6.6" fill="#fff3dc" fill-opacity="0.55"/>
<circle cx="826.3" cy="607.7" r="6.6" fill="#fff3dc" fill-opacity="0.55"/>
<circle cx="1152.2" cy="304.8" r="6.6" fill="#fff3dc" fill-opacity="0.55"/>
<circle cx="1144.1" cy="377.3" r="6.6" fill="#fff3dc" fill-opacity="0.55"/>
<circle cx="1173.9" cy="407.7" r="6.6" fill="#fff3dc" fill-opacity="0.55"/>
<circle cx="1199.3" cy="442.5" r="6.6" fill="#fff3dc" fill-opacity="0.55"/>
<circle cx="1225.8" cy="483.8" r="6.6" fill="#fff3dc" fill-opacity="0.55"/>
<circle cx="1117.4" cy="394.3" r="6.6" fill="#fff3dc" fill-opacity="0.55"/>
<circle cx="1132.4" cy="444.5" r="6.6" fill="#fff3dc" fill-opacity="0.55"/>
<circle cx="1276.8" cy="461.2" r="6.6" fill="#fff3dc" fill-opacity="0.55"/>
<circle cx="1196.5" cy="511.4" r="6.6" fill="#fff3dc" fill-opacity="0.55"/>
<circle cx="1179.8" cy="522.8" r="6.6" fill="#fff3dc" fill-opacity="0.55"/>
<circle cx="1299.4" cy="516.9" r="6.6" fill="#fff3dc" fill-opacity="0.55"/>
<circle cx="1096.4" cy="549" r="6.6" fill="#fff3dc" fill-opacity="0.55"/>
<circle cx="1193.4" cy="546.2" r="6.6" fill="#fff3dc" fill-opacity="0.55"/>
<circle cx="1226.6" cy="564" r="6.6" fill="#fff3dc" fill-opacity="0.55"/>
<circle cx="1197.4" cy="572.7" r="6.6" fill="#fff3dc" fill-opacity="0.55"/>
<circle cx="1306.1" cy="583.3" r="6.6" fill="#fff3dc" fill-opacity="0.55"/>
<circle cx="1157.5" cy="586.9" r="6.6" fill="#fff3dc" fill-opacity="0.55"/>
<circle cx="1130.5" cy="598.2" r="6.6" fill="#fff3dc" fill-opacity="0.55"/>
<circle cx="1087" cy="612.7" r="6.6" fill="#fff3dc" fill-opacity="0.55"/>
<circle cx="1165.4" cy="606.8" r="6.6" fill="#fff3dc" fill-opacity="0.55"/>
<circle cx="1116" cy="651.1" r="6.6" fill="#fff3dc" fill-opacity="0.55"/>
<circle cx="1219.8" cy="627" r="6.6" fill="#fff3dc" fill-opacity="0.55"/>
<circle cx="1236.5" cy="688.7" r="6.6" fill="#fff3dc" fill-opacity="0.55"/>
<circle cx="1320.5" cy="740.5" r="6.6" fill="#fff3dc" fill-opacity="0.55"/>
<circle cx="1248.6" cy="762.5" r="6.6" fill="#fff3dc" fill-opacity="0.55"/>
<circle cx="1129.2" cy="740.2" r="6.6" fill="#fff3dc" fill-opacity="0.55"/>
<circle cx="1084.9" cy="746.4" r="6.6" fill="#fff3dc" fill-opacity="0.55"/>
<circle cx="1125.7" cy="765.1" r="6.6" fill="#fff3dc" fill-opacity="0.55"/>
<circle cx="1323.7" cy="785.8" r="6.6" fill="#fff3dc" fill-opacity="0.55"/>
<circle cx="1245.3" cy="798.7" r="6.6" fill="#fff3dc" fill-opacity="0.55"/>
<circle cx="1162.7" cy="840.3" r="6.6" fill="#fff3dc" fill-opacity="0.55"/>
<circle cx="1249.4" cy="842.4" r="6.6" fill="#fff3dc" fill-opacity="0.55"/>
<circle cx="1208.6" cy="853.1" r="6.6" fill="#fff3dc" fill-opacity="0.55"/>
<circle cx="1121.9" cy="855.6" r="6.6" fill="#fff3dc" fill-opacity="0.55"/>
<circle cx="1297.4" cy="859.6" r="6.6" fill="#fff3dc" fill-opacity="0.55"/>
<circle cx="1216.9" cy="885.9" r="6.6" fill="#fff3dc" fill-opacity="0.55"/>
<circle cx="1143.1" cy="892" r="6.6" fill="#fff3dc" fill-opacity="0.55"/>
<circle cx="1183.6" cy="904.1" r="6.6" fill="#fff3dc" fill-opacity="0.55"/>
<circle cx="1083.8" cy="898.8" r="6.6" fill="#fff3dc" fill-opacity="0.55"/>
<circle cx="1253.4" cy="958.9" r="6.6" fill="#fff3dc" fill-opacity="0.55"/>
<circle cx="784.4" cy="635.2" r="6.6" fill="#fff3dc" fill-opacity="0.55"/>
<circle cx="917.9" cy="626.8" r="6.6" fill="#fff3dc" fill-opacity="0.55"/>
<circle cx="989.8" cy="647.3" r="6.6" fill="#fff3dc" fill-opacity="0.55"/>
<circle cx="1047.8" cy="666.4" r="6.6" fill="#fff3dc" fill-opacity="0.55"/>
<circle cx="898.5" cy="691.3" r="6.6" fill="#fff3dc" fill-opacity="0.55"/>
<circle cx="984" cy="687.7" r="6.6" fill="#fff3dc" fill-opacity="0.55"/>
<circle cx="967.1" cy="696.5" r="6.6" fill="#fff3dc" fill-opacity="0.55"/>
<circle cx="1048.9" cy="695" r="6.6" fill="#fff3dc" fill-opacity="0.55"/>
<circle cx="939.6" cy="724" r="6.6" fill="#fff3dc" fill-opacity="0.55"/>
<circle cx="982.9" cy="716.6" r="6.6" fill="#fff3dc" fill-opacity="0.55"/>
<circle cx="958.3" cy="738.6" r="6.6" fill="#fff3dc" fill-opacity="0.55"/>
<circle cx="977" cy="752.6" r="6.6" fill="#fff3dc" fill-opacity="0.55"/>
<circle cx="889.3" cy="748.9" r="6.6" fill="#fff3dc" fill-opacity="0.55"/>
<circle cx="869.9" cy="754.4" r="6.6" fill="#fff3dc" fill-opacity="0.55"/>
<circle cx="850.8" cy="760" r="6.6" fill="#fff3dc" fill-opacity="0.55"/>
<circle cx="827" cy="740.9" r="6.6" fill="#fff3dc" fill-opacity="0.55"/>
<circle cx="792.1" cy="691" r="6.6" fill="#fff3dc" fill-opacity="0.55"/>
<circle cx="855.2" cy="797.7" r="6.6" fill="#fff3dc" fill-opacity="0.55"/>
<circle cx="888.9" cy="817.9" r="6.6" fill="#fff3dc" fill-opacity="0.55"/>
<circle cx="963.4" cy="801" r="6.6" fill="#fff3dc" fill-opacity="0.55"/>
<circle cx="981.8" cy="817.9" r="6.6" fill="#fff3dc" fill-opacity="0.55"/>
<circle cx="924.9" cy="836.2" r="6.6" fill="#fff3dc" fill-opacity="0.55"/>
<circle cx="833.2" cy="827.1" r="6.6" fill="#fff3dc" fill-opacity="0.55"/>
<circle cx="786.6" cy="798.4" r="6.6" fill="#fff3dc" fill-opacity="0.55"/>
<circle cx="835" cy="861.9" r="6.6" fill="#fff3dc" fill-opacity="0.55"/>
<circle cx="895.6" cy="852.4" r="6.6" fill="#fff3dc" fill-opacity="0.55"/>
<circle cx="965.3" cy="878" r="6.6" fill="#fff3dc" fill-opacity="0.55"/>
<circle cx="984.3" cy="881.7" r="6.6" fill="#fff3dc" fill-opacity="0.55"/>
<circle cx="1035" cy="860.1" r="6.6" fill="#fff3dc" fill-opacity="0.55"/>
<circle cx="861.8" cy="878.4" r="6.6" fill="#fff3dc" fill-opacity="0.55"/>
<circle cx="799.1" cy="901.2" r="6.6" fill="#fff3dc" fill-opacity="0.55"/>
<circle cx="839.4" cy="899.3" r="6.6" fill="#fff3dc" fill-opacity="0.55"/>
<circle cx="886.4" cy="905.9" r="6.6" fill="#fff3dc" fill-opacity="0.55"/>
<circle cx="1010" cy="891.3" r="6.6" fill="#fff3dc" fill-opacity="0.55"/>
<circle cx="968.2" cy="920.2" r="6.6" fill="#fff3dc" fill-opacity="0.55"/>
<circle cx="984.3" cy="957.3" r="6.6" fill="#fff3dc" fill-opacity="0.55"/>
<circle cx="1029.4" cy="961.7" r="6.6" fill="#fff3dc" fill-opacity="0.55"/>
<circle cx="1051.5" cy="956.2" r="6.6" fill="#fff3dc" fill-opacity="0.55"/>
<circle cx="1104.6" cy="967.2" r="6.6" fill="#fff3dc" fill-opacity="0.55"/>
<circle cx="1009.3" cy="975.6" r="6.6" fill="#fff3dc" fill-opacity="0.55"/>
<circle cx="799.1" cy="965.4" r="6.6" fill="#fff3dc" fill-opacity="0.55"/>
<circle cx="863.3" cy="970.9" r="6.6" fill="#fff3dc" fill-opacity="0.55"/>
<circle cx="866.9" cy="989.9" r="6.6" fill="#fff3dc" fill-opacity="0.55"/>
<circle cx="908.4" cy="992.9" r="6.6" fill="#fff3dc" fill-opacity="0.55"/>
<circle cx="935.9" cy="1003.9" r="6.6" fill="#fff3dc" fill-opacity="0.55"/>
<circle cx="858.1" cy="1011.9" r="6.6" fill="#fff3dc" fill-opacity="0.55"/>
<circle cx="959.4" cy="1016.3" r="6.6" fill="#fff3dc" fill-opacity="0.55"/>
<circle cx="1007.4" cy="1010.8" r="6.6" fill="#fff3dc" fill-opacity="0.55"/>
<circle cx="1072.4" cy="1013.8" r="6.6" fill="#fff3dc" fill-opacity="0.55"/>
<circle cx="1112.7" cy="989.2" r="6.6" fill="#fff3dc" fill-opacity="0.55"/>
<circle cx="1138.4" cy="1011.9" r="6.6" fill="#fff3dc" fill-opacity="0.55"/>
<circle cx="1161.5" cy="1013.8" r="6.6" fill="#fff3dc" fill-opacity="0.55"/>
<circle cx="1133.3" cy="1033.2" r="6.6" fill="#fff3dc" fill-opacity="0.55"/>
<circle cx="858.1" cy="1035.8" r="6.6" fill="#fff3dc" fill-opacity="0.55"/>
<circle cx="942.5" cy="1046" r="6.6" fill="#fff3dc" fill-opacity="0.55"/>
<circle cx="965.3" cy="1047.9" r="6.6" fill="#fff3dc" fill-opacity="0.55"/>
<circle cx="1069.8" cy="1083.5" r="6.6" fill="#fff3dc" fill-opacity="0.55"/>
<circle cx="906.6" cy="1080.9" r="6.6" fill="#fff3dc" fill-opacity="0.55"/>
<circle cx="1163.2" cy="989.2" r="6.6" fill="#fff3dc" fill-opacity="0.55"/>
<circle cx="743.4" cy="805.4" r="6.6" fill="#fff3dc" fill-opacity="0.55"/>
<circle cx="712.7" cy="832.1" r="6.6" fill="#fff3dc" fill-opacity="0.55"/>
<circle cx="750.6" cy="830.2" r="6.6" fill="#fff3dc" fill-opacity="0.55"/>
<circle cx="782.6" cy="830.7" r="6.6" fill="#fff3dc" fill-opacity="0.55"/>
<circle cx="758.6" cy="869.4" r="6.6" fill="#fff3dc" fill-opacity="0.55"/>
<circle cx="739.4" cy="914" r="6.6" fill="#fff3dc" fill-opacity="0.55"/>
<circle cx="775.4" cy="912.1" r="6.6" fill="#fff3dc" fill-opacity="0.55"/>
<circle cx="750" cy="997.4" r="6.6" fill="#fff3dc" fill-opacity="0.55"/>
<circle cx="754" cy="1033.4" r="6.6" fill="#fff3dc" fill-opacity="0.55"/>
<circle cx="788.2" cy="1065.9" r="6.6" fill="#fff3dc" fill-opacity="0.55"/>
<circle cx="814" cy="1106.2" r="6.6" fill="#fff3dc" fill-opacity="0.55"/>
<circle cx="880.2" cy="1110.7" r="6.6" fill="#fff3dc" fill-opacity="0.55"/>
<circle cx="949" cy="1111.3" r="6.6" fill="#fff3dc" fill-opacity="0.55"/>
<circle cx="792.7" cy="1129.9" r="6.6" fill="#fff3dc" fill-opacity="0.55"/>
<circle cx="836.7" cy="1129.9" r="6.6" fill="#fff3dc" fill-opacity="0.55"/>
<circle cx="828.2" cy="1153.4" r="6.6" fill="#fff3dc" fill-opacity="0.55"/>
<circle cx="780.7" cy="1167.3" r="6.6" fill="#fff3dc" fill-opacity="0.55"/>
<circle cx="801" cy="1170.7" r="6.6" fill="#fff3dc" fill-opacity="0.55"/>
<circle cx="829.3" cy="1172.1" r="6.6" fill="#fff3dc" fill-opacity="0.55"/>
<circle cx="855.4" cy="1170.2" r="6.6" fill="#fff3dc" fill-opacity="0.55"/>
<circle cx="874.9" cy="1172.1" r="6.6" fill="#fff3dc" fill-opacity="0.55"/>
<circle cx="882.1" cy="1185.4" r="6.6" fill="#fff3dc" fill-opacity="0.55"/>
<circle cx="910.9" cy="1153.4" r="6.6" fill="#fff3dc" fill-opacity="0.55"/>
<circle cx="948.2" cy="1166.7" r="6.6" fill="#fff3dc" fill-opacity="0.55"/>
<circle cx="794.8" cy="1197.4" r="6.6" fill="#fff3dc" fill-opacity="0.55"/>
<circle cx="896.2" cy="1214.7" r="6.6" fill="#fff3dc" fill-opacity="0.55"/>
<circle cx="920.2" cy="1208.1" r="6.6" fill="#fff3dc" fill-opacity="0.55"/>
<circle cx="932.2" cy="1227.6" r="6.6" fill="#fff3dc" fill-opacity="0.55"/>
<circle cx="956" cy="1234" r="6.6" fill="#fff3dc" fill-opacity="0.55"/>
<circle cx="770.8" cy="1246" r="6.6" fill="#fff3dc" fill-opacity="0.55"/>
<circle cx="767.4" cy="1262.8" r="6.6" fill="#fff3dc" fill-opacity="0.55"/>
<circle cx="807.4" cy="1273.4" r="6.6" fill="#fff3dc" fill-opacity="0.55"/>
<circle cx="833.5" cy="1271.6" r="6.6" fill="#fff3dc" fill-opacity="0.55"/>
<circle cx="923.4" cy="1259.3" r="6.6" fill="#fff3dc" fill-opacity="0.55"/>
<circle cx="913.3" cy="1270.8" r="6.6" fill="#fff3dc" fill-opacity="0.55"/>
<circle cx="874.9" cy="1294" r="6.6" fill="#fff3dc" fill-opacity="0.55"/>
<circle cx="798" cy="1304.5" r="6.6" fill="#fff3dc" fill-opacity="0.55"/>
<circle cx="910.9" cy="1310.8" r="6.6" fill="#fff3dc" fill-opacity="0.55"/>
<circle cx="823.7" cy="1338" r="6.6" fill="#fff3dc" fill-opacity="0.55"/>
<circle cx="914.4" cy="1355.1" r="6.6" fill="#fff3dc" fill-opacity="0.55"/>
<circle cx="763.5" cy="1371.4" r="6.6" fill="#fff3dc" fill-opacity="0.55"/>
<circle cx="825.2" cy="1389.2" r="6.6" fill="#fff3dc" fill-opacity="0.55"/>
<circle cx="858.6" cy="1403.8" r="6.6" fill="#fff3dc" fill-opacity="0.55"/>
<circle cx="901.9" cy="1438.3" r="6.6" fill="#fff3dc" fill-opacity="0.55"/>
<circle cx="996.7" cy="1110.2" r="6.6" fill="#fff3dc" fill-opacity="0.55"/>
<circle cx="1096.4" cy="1109.5" r="6.6" fill="#fff3dc" fill-opacity="0.55"/>
<circle cx="1122.5" cy="1126.8" r="6.6" fill="#fff3dc" fill-opacity="0.55"/>
<circle cx="1147" cy="1124.2" r="6.6" fill="#fff3dc" fill-opacity="0.55"/>
<circle cx="1166.1" cy="1135.2" r="6.6" fill="#fff3dc" fill-opacity="0.55"/>
<circle cx="1129.8" cy="1144.4" r="6.6" fill="#fff3dc" fill-opacity="0.55"/>
<circle cx="1111.1" cy="1149.9" r="6.6" fill="#fff3dc" fill-opacity="0.55"/>
<circle cx="1090.6" cy="1151" r="6.6" fill="#fff3dc" fill-opacity="0.55"/>
<circle cx="991.2" cy="1137.8" r="6.6" fill="#fff3dc" fill-opacity="0.55"/>
<circle cx="1048" cy="1159" r="6.6" fill="#fff3dc" fill-opacity="0.55"/>
<circle cx="1112.2" cy="1180.3" r="6.6" fill="#fff3dc" fill-opacity="0.55"/>
<circle cx="1006.6" cy="1206" r="6.6" fill="#fff3dc" fill-opacity="0.55"/>
<circle cx="1081.8" cy="1215.9" r="6.6" fill="#fff3dc" fill-opacity="0.55"/>
<circle cx="1026.8" cy="1233.5" r="6.6" fill="#fff3dc" fill-opacity="0.55"/>
<circle cx="1106.7" cy="1243.4" r="6.6" fill="#fff3dc" fill-opacity="0.55"/>
<circle cx="986.8" cy="1266.5" r="6.6" fill="#fff3dc" fill-opacity="0.55"/>
<circle cx="1048" cy="1261.7" r="6.6" fill="#fff3dc" fill-opacity="0.55"/>
<circle cx="1083.6" cy="1268.3" r="6.6" fill="#fff3dc" fill-opacity="0.55"/>
<circle cx="1046.2" cy="1293.6" r="6.6" fill="#fff3dc" fill-opacity="0.55"/>
<circle cx="1065.6" cy="1292.9" r="6.6" fill="#fff3dc" fill-opacity="0.55"/>
<circle cx="1012.1" cy="1313.8" r="6.6" fill="#fff3dc" fill-opacity="0.55"/>
<circle cx="993.7" cy="1385.6" r="6.6" fill="#fff3dc" fill-opacity="0.55"/>
<circle cx="1040.4" cy="247.9" r="4.9" fill="#1414f0" stroke="#04047a" stroke-width="1.4"/>
<circle cx="1019.5" cy="257.1" r="4.9" fill="#1414f0" stroke="#04047a" stroke-width="1.4"/>
<circle cx="815.7" cy="364.4" r="4.9" fill="#1414f0" stroke="#04047a" stroke-width="1.4"/>
<circle cx="977.4" cy="326.7" r="4.9" fill="#1414f0" stroke="#04047a" stroke-width="1.4"/>
<circle cx="1036.8" cy="329.3" r="4.9" fill="#1414f0" stroke="#04047a" stroke-width="1.4"/>
<circle cx="1092.8" cy="338.5" r="4.9" fill="#1414f0" stroke="#04047a" stroke-width="1.4"/>
<circle cx="947.6" cy="338.7" r="4.9" fill="#1414f0" stroke="#04047a" stroke-width="1.4"/>
<circle cx="921.7" cy="350.4" r="4.9" fill="#1414f0" stroke="#04047a" stroke-width="1.4"/>
<circle cx="896.9" cy="364.4" r="4.9" fill="#1414f0" stroke="#04047a" stroke-width="1.4"/>
<circle cx="873.7" cy="382.5" r="4.9" fill="#1414f0" stroke="#04047a" stroke-width="1.4"/>
<circle cx="852.8" cy="403.4" r="4.9" fill="#1414f0" stroke="#04047a" stroke-width="1.4"/>
<circle cx="920.8" cy="363.5" r="4.9" fill="#1414f0" stroke="#04047a" stroke-width="1.4"/>
<circle cx="1001.4" cy="388.1" r="4.9" fill="#1414f0" stroke="#04047a" stroke-width="1.4"/>
<circle cx="731.8" cy="425.7" r="4.9" fill="#1414f0" stroke="#04047a" stroke-width="1.4"/>
<circle cx="884.3" cy="415.7" r="4.9" fill="#1414f0" stroke="#04047a" stroke-width="1.4"/>
<circle cx="996.7" cy="422.1" r="4.9" fill="#1414f0" stroke="#04047a" stroke-width="1.4"/>
<circle cx="947.9" cy="425.7" r="4.9" fill="#1414f0" stroke="#04047a" stroke-width="1.4"/>
<circle cx="1069.1" cy="431.8" r="4.9" fill="#1414f0" stroke="#04047a" stroke-width="1.4"/>
<circle cx="875.1" cy="443.3" r="4.9" fill="#1414f0" stroke="#04047a" stroke-width="1.4"/>
<circle cx="1050.2" cy="455.8" r="4.9" fill="#1414f0" stroke="#04047a" stroke-width="1.4"/>
<circle cx="1077.8" cy="458.4" r="4.9" fill="#1414f0" stroke="#04047a" stroke-width="1.4"/>
<circle cx="938.1" cy="473.9" r="4.9" fill="#1414f0" stroke="#04047a" stroke-width="1.4"/>
<circle cx="876.8" cy="475.9" r="4.9" fill="#1414f0" stroke="#04047a" stroke-width="1.4"/>
<circle cx="757.2" cy="489.3" r="4.9" fill="#1414f0" stroke="#04047a" stroke-width="1.4"/>
<circle cx="843.6" cy="488.1" r="4.9" fill="#1414f0" stroke="#04047a" stroke-width="1.4"/>
<circle cx="825.8" cy="503.2" r="4.9" fill="#1414f0" stroke="#04047a" stroke-width="1.4"/>
<circle cx="1071.1" cy="503.2" r="4.9" fill="#1414f0" stroke="#04047a" stroke-width="1.4"/>
<circle cx="857.3" cy="516.8" r="4.9" fill="#1414f0" stroke="#04047a" stroke-width="1.4"/>
<circle cx="886.3" cy="524.1" r="4.9" fill="#1414f0" stroke="#04047a" stroke-width="1.4"/>
<circle cx="1051.6" cy="538.3" r="4.9" fill="#1414f0" stroke="#04047a" stroke-width="1.4"/>
<circle cx="1022.9" cy="565.6" r="4.9" fill="#1414f0" stroke="#04047a" stroke-width="1.4"/>
<circle cx="1043.2" cy="579" r="4.9" fill="#1414f0" stroke="#04047a" stroke-width="1.4"/>
<circle cx="1003.3" cy="587.4" r="4.9" fill="#1414f0" stroke="#04047a" stroke-width="1.4"/>
<circle cx="1048.8" cy="608.8" r="4.9" fill="#1414f0" stroke="#04047a" stroke-width="1.4"/>
<circle cx="821.6" cy="585.4" r="4.9" fill="#1414f0" stroke="#04047a" stroke-width="1.4"/>
<circle cx="842.5" cy="591.6" r="4.9" fill="#1414f0" stroke="#04047a" stroke-width="1.4"/>
<circle cx="862.9" cy="599.9" r="4.9" fill="#1414f0" stroke="#04047a" stroke-width="1.4"/>
<circle cx="826.3" cy="607.7" r="4.9" fill="#1414f0" stroke="#04047a" stroke-width="1.4"/>
<circle cx="1152.2" cy="304.8" r="4.9" fill="#1414f0" stroke="#04047a" stroke-width="1.4"/>
<circle cx="1144.1" cy="377.3" r="4.9" fill="#1414f0" stroke="#04047a" stroke-width="1.4"/>
<circle cx="1173.9" cy="407.7" r="4.9" fill="#1414f0" stroke="#04047a" stroke-width="1.4"/>
<circle cx="1199.3" cy="442.5" r="4.9" fill="#1414f0" stroke="#04047a" stroke-width="1.4"/>
<circle cx="1225.8" cy="483.8" r="4.9" fill="#1414f0" stroke="#04047a" stroke-width="1.4"/>
<circle cx="1117.4" cy="394.3" r="4.9" fill="#1414f0" stroke="#04047a" stroke-width="1.4"/>
<circle cx="1132.4" cy="444.5" r="4.9" fill="#1414f0" stroke="#04047a" stroke-width="1.4"/>
<circle cx="1276.8" cy="461.2" r="4.9" fill="#1414f0" stroke="#04047a" stroke-width="1.4"/>
<circle cx="1196.5" cy="511.4" r="4.9" fill="#1414f0" stroke="#04047a" stroke-width="1.4"/>
<circle cx="1179.8" cy="522.8" r="4.9" fill="#1414f0" stroke="#04047a" stroke-width="1.4"/>
<circle cx="1299.4" cy="516.9" r="4.9" fill="#1414f0" stroke="#04047a" stroke-width="1.4"/>
<circle cx="1096.4" cy="549" r="4.9" fill="#1414f0" stroke="#04047a" stroke-width="1.4"/>
<circle cx="1193.4" cy="546.2" r="4.9" fill="#1414f0" stroke="#04047a" stroke-width="1.4"/>
<circle cx="1226.6" cy="564" r="4.9" fill="#1414f0" stroke="#04047a" stroke-width="1.4"/>
<circle cx="1197.4" cy="572.7" r="4.9" fill="#1414f0" stroke="#04047a" stroke-width="1.4"/>
<circle cx="1306.1" cy="583.3" r="4.9" fill="#1414f0" stroke="#04047a" stroke-width="1.4"/>
<circle cx="1157.5" cy="586.9" r="4.9" fill="#1414f0" stroke="#04047a" stroke-width="1.4"/>
<circle cx="1130.5" cy="598.2" r="4.9" fill="#1414f0" stroke="#04047a" stroke-width="1.4"/>
<circle cx="1087" cy="612.7" r="4.9" fill="#1414f0" stroke="#04047a" stroke-width="1.4"/>
<circle cx="1165.4" cy="606.8" r="4.9" fill="#1414f0" stroke="#04047a" stroke-width="1.4"/>
<circle cx="1116" cy="651.1" r="4.9" fill="#1414f0" stroke="#04047a" stroke-width="1.4"/>
<circle cx="1219.8" cy="627" r="4.9" fill="#1414f0" stroke="#04047a" stroke-width="1.4"/>
<circle cx="1236.5" cy="688.7" r="4.9" fill="#1414f0" stroke="#04047a" stroke-width="1.4"/>
<circle cx="1320.5" cy="740.5" r="4.9" fill="#1414f0" stroke="#04047a" stroke-width="1.4"/>
<circle cx="1248.6" cy="762.5" r="4.9" fill="#1414f0" stroke="#04047a" stroke-width="1.4"/>
<circle cx="1129.2" cy="740.2" r="4.9" fill="#1414f0" stroke="#04047a" stroke-width="1.4"/>
<circle cx="1084.9" cy="746.4" r="4.9" fill="#1414f0" stroke="#04047a" stroke-width="1.4"/>
<circle cx="1125.7" cy="765.1" r="4.9" fill="#1414f0" stroke="#04047a" stroke-width="1.4"/>
<circle cx="1323.7" cy="785.8" r="4.9" fill="#1414f0" stroke="#04047a" stroke-width="1.4"/>
<circle cx="1245.3" cy="798.7" r="4.9" fill="#1414f0" stroke="#04047a" stroke-width="1.4"/>
<circle cx="1162.7" cy="840.3" r="4.9" fill="#1414f0" stroke="#04047a" stroke-width="1.4"/>
<circle cx="1249.4" cy="842.4" r="4.9" fill="#1414f0" stroke="#04047a" stroke-width="1.4"/>
<circle cx="1208.6" cy="853.1" r="4.9" fill="#1414f0" stroke="#04047a" stroke-width="1.4"/>
<circle cx="1121.9" cy="855.6" r="4.9" fill="#1414f0" stroke="#04047a" stroke-width="1.4"/>
<circle cx="1297.4" cy="859.6" r="4.9" fill="#1414f0" stroke="#04047a" stroke-width="1.4"/>
<circle cx="1216.9" cy="885.9" r="4.9" fill="#1414f0" stroke="#04047a" stroke-width="1.4"/>
<circle cx="1143.1" cy="892" r="4.9" fill="#1414f0" stroke="#04047a" stroke-width="1.4"/>
<circle cx="1183.6" cy="904.1" r="4.9" fill="#1414f0" stroke="#04047a" stroke-width="1.4"/>
<circle cx="1083.8" cy="898.8" r="4.9" fill="#1414f0" stroke="#04047a" stroke-width="1.4"/>
<circle cx="1253.4" cy="958.9" r="4.9" fill="#1414f0" stroke="#04047a" stroke-width="1.4"/>
<circle cx="784.4" cy="635.2" r="4.9" fill="#1414f0" stroke="#04047a" stroke-width="1.4"/>
<circle cx="917.9" cy="626.8" r="4.9" fill="#1414f0" stroke="#04047a" stroke-width="1.4"/>
<circle cx="989.8" cy="647.3" r="4.9" fill="#1414f0" stroke="#04047a" stroke-width="1.4"/>
<circle cx="1047.8" cy="666.4" r="4.9" fill="#1414f0" stroke="#04047a" stroke-width="1.4"/>
<circle cx="898.5" cy="691.3" r="4.9" fill="#1414f0" stroke="#04047a" stroke-width="1.4"/>
<circle cx="984" cy="687.7" r="4.9" fill="#1414f0" stroke="#04047a" stroke-width="1.4"/>
<circle cx="967.1" cy="696.5" r="4.9" fill="#1414f0" stroke="#04047a" stroke-width="1.4"/>
<circle cx="1048.9" cy="695" r="4.9" fill="#1414f0" stroke="#04047a" stroke-width="1.4"/>
<circle cx="939.6" cy="724" r="4.9" fill="#1414f0" stroke="#04047a" stroke-width="1.4"/>
<circle cx="982.9" cy="716.6" r="4.9" fill="#1414f0" stroke="#04047a" stroke-width="1.4"/>
<circle cx="958.3" cy="738.6" r="4.9" fill="#1414f0" stroke="#04047a" stroke-width="1.4"/>
<circle cx="977" cy="752.6" r="4.9" fill="#1414f0" stroke="#04047a" stroke-width="1.4"/>
<circle cx="889.3" cy="748.9" r="4.9" fill="#1414f0" stroke="#04047a" stroke-width="1.4"/>
<circle cx="869.9" cy="754.4" r="4.9" fill="#1414f0" stroke="#04047a" stroke-width="1.4"/>
<circle cx="850.8" cy="760" r="4.9" fill="#1414f0" stroke="#04047a" stroke-width="1.4"/>
<circle cx="827" cy="740.9" r="4.9" fill="#1414f0" stroke="#04047a" stroke-width="1.4"/>
<circle cx="792.1" cy="691" r="4.9" fill="#1414f0" stroke="#04047a" stroke-width="1.4"/>
<circle cx="855.2" cy="797.7" r="4.9" fill="#1414f0" stroke="#04047a" stroke-width="1.4"/>
<circle cx="888.9" cy="817.9" r="4.9" fill="#1414f0" stroke="#04047a" stroke-width="1.4"/>
<circle cx="963.4" cy="801" r="4.9" fill="#1414f0" stroke="#04047a" stroke-width="1.4"/>
<circle cx="981.8" cy="817.9" r="4.9" fill="#1414f0" stroke="#04047a" stroke-width="1.4"/>
<circle cx="924.9" cy="836.2" r="4.9" fill="#1414f0" stroke="#04047a" stroke-width="1.4"/>
<circle cx="833.2" cy="827.1" r="4.9" fill="#1414f0" stroke="#04047a" stroke-width="1.4"/>
<circle cx="786.6" cy="798.4" r="4.9" fill="#1414f0" stroke="#04047a" stroke-width="1.4"/>
<circle cx="835" cy="861.9" r="4.9" fill="#1414f0" stroke="#04047a" stroke-width="1.4"/>
<circle cx="895.6" cy="852.4" r="4.9" fill="#1414f0" stroke="#04047a" stroke-width="1.4"/>
<circle cx="965.3" cy="878" r="4.9" fill="#1414f0" stroke="#04047a" stroke-width="1.4"/>
<circle cx="984.3" cy="881.7" r="4.9" fill="#1414f0" stroke="#04047a" stroke-width="1.4"/>
<circle cx="1035" cy="860.1" r="4.9" fill="#1414f0" stroke="#04047a" stroke-width="1.4"/>
<circle cx="861.8" cy="878.4" r="4.9" fill="#1414f0" stroke="#04047a" stroke-width="1.4"/>
<circle cx="799.1" cy="901.2" r="4.9" fill="#1414f0" stroke="#04047a" stroke-width="1.4"/>
<circle cx="839.4" cy="899.3" r="4.9" fill="#1414f0" stroke="#04047a" stroke-width="1.4"/>
<circle cx="886.4" cy="905.9" r="4.9" fill="#1414f0" stroke="#04047a" stroke-width="1.4"/>
<circle cx="1010" cy="891.3" r="4.9" fill="#1414f0" stroke="#04047a" stroke-width="1.4"/>
<circle cx="968.2" cy="920.2" r="4.9" fill="#1414f0" stroke="#04047a" stroke-width="1.4"/>
<circle cx="984.3" cy="957.3" r="4.9" fill="#1414f0" stroke="#04047a" stroke-width="1.4"/>
<circle cx="1029.4" cy="961.7" r="4.9" fill="#1414f0" stroke="#04047a" stroke-width="1.4"/>
<circle cx="1051.5" cy="956.2" r="4.9" fill="#1414f0" stroke="#04047a" stroke-width="1.4"/>
<circle cx="1104.6" cy="967.2" r="4.9" fill="#1414f0" stroke="#04047a" stroke-width="1.4"/>
<circle cx="1009.3" cy="975.6" r="4.9" fill="#1414f0" stroke="#04047a" stroke-width="1.4"/>
<circle cx="799.1" cy="965.4" r="4.9" fill="#1414f0" stroke="#04047a" stroke-width="1.4"/>
<circle cx="863.3" cy="970.9" r="4.9" fill="#1414f0" stroke="#04047a" stroke-width="1.4"/>
<circle cx="866.9" cy="989.9" r="4.9" fill="#1414f0" stroke="#04047a" stroke-width="1.4"/>
<circle cx="908.4" cy="992.9" r="4.9" fill="#1414f0" stroke="#04047a" stroke-width="1.4"/>
<circle cx="935.9" cy="1003.9" r="4.9" fill="#1414f0" stroke="#04047a" stroke-width="1.4"/>
<circle cx="858.1" cy="1011.9" r="4.9" fill="#1414f0" stroke="#04047a" stroke-width="1.4"/>
<circle cx="959.4" cy="1016.3" r="4.9" fill="#1414f0" stroke="#04047a" stroke-width="1.4"/>
<circle cx="1007.4" cy="1010.8" r="4.9" fill="#1414f0" stroke="#04047a" stroke-width="1.4"/>
<circle cx="1072.4" cy="1013.8" r="4.9" fill="#1414f0" stroke="#04047a" stroke-width="1.4"/>
<circle cx="1112.7" cy="989.2" r="4.9" fill="#1414f0" stroke="#04047a" stroke-width="1.4"/>
<circle cx="1138.4" cy="1011.9" r="4.9" fill="#1414f0" stroke="#04047a" stroke-width="1.4"/>
<circle cx="1161.5" cy="1013.8" r="4.9" fill="#1414f0" stroke="#04047a" stroke-width="1.4"/>
<circle cx="1133.3" cy="1033.2" r="4.9" fill="#1414f0" stroke="#04047a" stroke-width="1.4"/>
<circle cx="858.1" cy="1035.8" r="4.9" fill="#1414f0" stroke="#04047a" stroke-width="1.4"/>
<circle cx="942.5" cy="1046" r="4.9" fill="#1414f0" stroke="#04047a" stroke-width="1.4"/>
<circle cx="965.3" cy="1047.9" r="4.9" fill="#1414f0" stroke="#04047a" stroke-width="1.4"/>
<circle cx="1069.8" cy="1083.5" r="4.9" fill="#1414f0" stroke="#04047a" stroke-width="1.4"/>
<circle cx="906.6" cy="1080.9" r="4.9" fill="#1414f0" stroke="#04047a" stroke-width="1.4"/>
<circle cx="1163.2" cy="989.2" r="4.9" fill="#1414f0" stroke="#04047a" stroke-width="1.4"/>
<circle cx="743.4" cy="805.4" r="4.9" fill="#1414f0" stroke="#04047a" stroke-width="1.4"/>
<circle cx="712.7" cy="832.1" r="4.9" fill="#1414f0" stroke="#04047a" stroke-width="1.4"/>
<circle cx="750.6" cy="830.2" r="4.9" fill="#1414f0" stroke="#04047a" stroke-width="1.4"/>
<circle cx="782.6" cy="830.7" r="4.9" fill="#1414f0" stroke="#04047a" stroke-width="1.4"/>
<circle cx="758.6" cy="869.4" r="4.9" fill="#1414f0" stroke="#04047a" stroke-width="1.4"/>
<circle cx="739.4" cy="914" r="4.9" fill="#1414f0" stroke="#04047a" stroke-width="1.4"/>
<circle cx="775.4" cy="912.1" r="4.9" fill="#1414f0" stroke="#04047a" stroke-width="1.4"/>
<circle cx="750" cy="997.4" r="4.9" fill="#1414f0" stroke="#04047a" stroke-width="1.4"/>
<circle cx="754" cy="1033.4" r="4.9" fill="#1414f0" stroke="#04047a" stroke-width="1.4"/>
<circle cx="788.2" cy="1065.9" r="4.9" fill="#1414f0" stroke="#04047a" stroke-width="1.4"/>
<circle cx="814" cy="1106.2" r="4.9" fill="#1414f0" stroke="#04047a" stroke-width="1.4"/>
<circle cx="880.2" cy="1110.7" r="4.9" fill="#1414f0" stroke="#04047a" stroke-width="1.4"/>
<circle cx="949" cy="1111.3" r="4.9" fill="#1414f0" stroke="#04047a" stroke-width="1.4"/>
<circle cx="792.7" cy="1129.9" r="4.9" fill="#1414f0" stroke="#04047a" stroke-width="1.4"/>
<circle cx="836.7" cy="1129.9" r="4.9" fill="#1414f0" stroke="#04047a" stroke-width="1.4"/>
<circle cx="828.2" cy="1153.4" r="4.9" fill="#1414f0" stroke="#04047a" stroke-width="1.4"/>
<circle cx="780.7" cy="1167.3" r="4.9" fill="#1414f0" stroke="#04047a" stroke-width="1.4"/>
<circle cx="801" cy="1170.7" r="4.9" fill="#1414f0" stroke="#04047a" stroke-width="1.4"/>
<circle cx="829.3" cy="1172.1" r="4.9" fill="#1414f0" stroke="#04047a" stroke-width="1.4"/>
<circle cx="855.4" cy="1170.2" r="4.9" fill="#1414f0" stroke="#04047a" stroke-width="1.4"/>
<circle cx="874.9" cy="1172.1" r="4.9" fill="#1414f0" stroke="#04047a" stroke-width="1.4"/>
<circle cx="882.1" cy="1185.4" r="4.9" fill="#1414f0" stroke="#04047a" stroke-width="1.4"/>
<circle cx="910.9" cy="1153.4" r="4.9" fill="#1414f0" stroke="#04047a" stroke-width="1.4"/>
<circle cx="948.2" cy="1166.7" r="4.9" fill="#1414f0" stroke="#04047a" stroke-width="1.4"/>
<circle cx="794.8" cy="1197.4" r="4.9" fill="#1414f0" stroke="#04047a" stroke-width="1.4"/>
<circle cx="896.2" cy="1214.7" r="4.9" fill="#1414f0" stroke="#04047a" stroke-width="1.4"/>
<circle cx="920.2" cy="1208.1" r="4.9" fill="#1414f0" stroke="#04047a" stroke-width="1.4"/>
<circle cx="932.2" cy="1227.6" r="4.9" fill="#1414f0" stroke="#04047a" stroke-width="1.4"/>
<circle cx="956" cy="1234" r="4.9" fill="#1414f0" stroke="#04047a" stroke-width="1.4"/>
<circle cx="770.8" cy="1246" r="4.9" fill="#1414f0" stroke="#04047a" stroke-width="1.4"/>
<circle cx="767.4" cy="1262.8" r="4.9" fill="#1414f0" stroke="#04047a" stroke-width="1.4"/>
<circle cx="807.4" cy="1273.4" r="4.9" fill="#1414f0" stroke="#04047a" stroke-width="1.4"/>
<circle cx="833.5" cy="1271.6" r="4.9" fill="#1414f0" stroke="#04047a" stroke-width="1.4"/>
<circle cx="923.4" cy="1259.3" r="4.9" fill="#1414f0" stroke="#04047a" stroke-width="1.4"/>
<circle cx="913.3" cy="1270.8" r="4.9" fill="#1414f0" stroke="#04047a" stroke-width="1.4"/>
<circle cx="874.9" cy="1294" r="4.9" fill="#1414f0" stroke="#04047a" stroke-width="1.4"/>
<circle cx="798" cy="1304.5" r="4.9" fill="#1414f0" stroke="#04047a" stroke-width="1.4"/>
<circle cx="910.9" cy="1310.8" r="4.9" fill="#1414f0" stroke="#04047a" stroke-width="1.4"/>
<circle cx="823.7" cy="1338" r="4.9" fill="#1414f0" stroke="#04047a" stroke-width="1.4"/>
<circle cx="914.4" cy="1355.1" r="4.9" fill="#1414f0" stroke="#04047a" stroke-width="1.4"/>
<circle cx="763.5" cy="1371.4" r="4.9" fill="#1414f0" stroke="#04047a" stroke-width="1.4"/>
<circle cx="825.2" cy="1389.2" r="4.9" fill="#1414f0" stroke="#04047a" stroke-width="1.4"/>
<circle cx="858.6" cy="1403.8" r="4.9" fill="#1414f0" stroke="#04047a" stroke-width="1.4"/>
<circle cx="901.9" cy="1438.3" r="4.9" fill="#1414f0" stroke="#04047a" stroke-width="1.4"/>
<circle cx="996.7" cy="1110.2" r="4.9" fill="#1414f0" stroke="#04047a" stroke-width="1.4"/>
<circle cx="1096.4" cy="1109.5" r="4.9" fill="#1414f0" stroke="#04047a" stroke-width="1.4"/>
<circle cx="1122.5" cy="1126.8" r="4.9" fill="#1414f0" stroke="#04047a" stroke-width="1.4"/>
<circle cx="1147" cy="1124.2" r="4.9" fill="#1414f0" stroke="#04047a" stroke-width="1.4"/>
<circle cx="1166.1" cy="1135.2" r="4.9" fill="#1414f0" stroke="#04047a" stroke-width="1.4"/>
<circle cx="1129.8" cy="1144.4" r="4.9" fill="#1414f0" stroke="#04047a" stroke-width="1.4"/>
<circle cx="1111.1" cy="1149.9" r="4.9" fill="#1414f0" stroke="#04047a" stroke-width="1.4"/>
<circle cx="1090.6" cy="1151" r="4.9" fill="#1414f0" stroke="#04047a" stroke-width="1.4"/>
<circle cx="991.2" cy="1137.8" r="4.9" fill="#1414f0" stroke="#04047a" stroke-width="1.4"/>
<circle cx="1048" cy="1159" r="4.9" fill="#1414f0" stroke="#04047a" stroke-width="1.4"/>
<circle cx="1112.2" cy="1180.3" r="4.9" fill="#1414f0" stroke="#04047a" stroke-width="1.4"/>
<circle cx="1006.6" cy="1206" r="4.9" fill="#1414f0" stroke="#04047a" stroke-width="1.4"/>
<circle cx="1081.8" cy="1215.9" r="4.9" fill="#1414f0" stroke="#04047a" stroke-width="1.4"/>
<circle cx="1026.8" cy="1233.5" r="4.9" fill="#1414f0" stroke="#04047a" stroke-width="1.4"/>
<circle cx="1106.7" cy="1243.4" r="4.9" fill="#1414f0" stroke="#04047a" stroke-width="1.4"/>
<circle cx="986.8" cy="1266.5" r="4.9" fill="#1414f0" stroke="#04047a" stroke-width="1.4"/>
<circle cx="1048" cy="1261.7" r="4.9" fill="#1414f0" stroke="#04047a" stroke-width="1.4"/>
<circle cx="1083.6" cy="1268.3" r="4.9" fill="#1414f0" stroke="#04047a" stroke-width="1.4"/>
<circle cx="1046.2" cy="1293.6" r="4.9" fill="#1414f0" stroke="#04047a" stroke-width="1.4"/>
<circle cx="1065.6" cy="1292.9" r="4.9" fill="#1414f0" stroke="#04047a" stroke-width="1.4"/>
<circle cx="1012.1" cy="1313.8" r="4.9" fill="#1414f0" stroke="#04047a" stroke-width="1.4"/>
<circle cx="993.7" cy="1385.6" r="4.9" fill="#1414f0" stroke="#04047a" stroke-width="1.4"/>
<polygon points="1019.5,261.3 1013.7,270.8 1025.3,270.8" fill="#33e633" stroke="#136613" stroke-width="1.2"/>
<polygon points="849.2,322.6 843.4000000000001,332.1 855.0,332.1" fill="#33e633" stroke="#136613" stroke-width="1.2"/>
<polygon points="832.2,340.7 826.4000000000001,350.2 838.0,350.2" fill="#33e633" stroke="#136613" stroke-width="1.2"/>
<polygon points="778.1,453 772.3000000000001,462.5 783.9,462.5" fill="#33e633" stroke="#136613" stroke-width="1.2"/>
<polygon points="776.4,474.5 770.6,484.0 782.1999999999999,484.0" fill="#33e633" stroke="#136613" stroke-width="1.2"/>
<polygon points="768.1,555.9 762.3000000000001,565.4 773.9,565.4" fill="#33e633" stroke="#136613" stroke-width="1.2"/>
<polygon points="779.8,584 774.0,593.5 785.5999999999999,593.5" fill="#33e633" stroke="#136613" stroke-width="1.2"/>
<polygon points="1256.7,445 1250.9,454.5 1262.5,454.5" fill="#33e633" stroke="#136613" stroke-width="1.2"/>
<polygon points="1111.2,626 1105.4,635.5 1117.0,635.5" fill="#33e633" stroke="#136613" stroke-width="1.2"/>
<polygon points="1153.8,737.6 1148.0,747.1 1159.6,747.1" fill="#33e633" stroke="#136613" stroke-width="1.2"/>
<polygon points="1146.1,844.1 1140.3,853.6 1151.8999999999999,853.6" fill="#33e633" stroke="#136613" stroke-width="1.2"/>
<polygon points="1130,863.4 1124.2,872.9 1135.8,872.9" fill="#33e633" stroke="#136613" stroke-width="1.2"/>
<polygon points="1116.5,922.5 1110.7,932.0 1122.3,932.0" fill="#33e633" stroke="#136613" stroke-width="1.2"/>
<polygon points="1094.3,921.1 1088.5,930.6 1100.1,930.6" fill="#33e633" stroke="#136613" stroke-width="1.2"/>
<polygon points="866.6,704.4 860.8000000000001,713.9 872.4,713.9" fill="#33e633" stroke="#136613" stroke-width="1.2"/>
<polygon points="758.6,811.1 752.8000000000001,820.6 764.4,820.6" fill="#33e633" stroke="#136613" stroke-width="1.2"/>
<polygon points="758.6,849.2 752.8000000000001,858.7 764.4,858.7" fill="#33e633" stroke="#136613" stroke-width="1.2"/>
<polygon points="758.6,888.4 752.8000000000001,897.9 764.4,897.9" fill="#33e633" stroke="#136613" stroke-width="1.2"/>
<polygon points="765.5,941.8 759.7,951.3 771.3,951.3" fill="#33e633" stroke="#136613" stroke-width="1.2"/>
<polygon points="762,1002.5 756.2,1012.0 767.8,1012.0" fill="#33e633" stroke="#136613" stroke-width="1.2"/>
<polygon points="1033.4,981.7 1027.6000000000001,991.2 1039.2,991.2" fill="#33e633" stroke="#136613" stroke-width="1.2"/>
<polygon points="1025.3,993.8 1019.5,1003.3 1031.1,1003.3" fill="#33e633" stroke="#136613" stroke-width="1.2"/>
<polygon points="977.6,1012.8 971.8000000000001,1022.3 983.4,1022.3" fill="#33e633" stroke="#136613" stroke-width="1.2"/>
<polygon points="996,1019.0999999999999 990.2,1028.6 1001.8,1028.6" fill="#33e633" stroke="#136613" stroke-width="1.2"/>
<polygon points="1021.6,1017.6 1015.8000000000001,1027.1 1027.4,1027.1" fill="#33e633" stroke="#136613" stroke-width="1.2"/>
<polygon points="935.4,1026.4 929.6,1035.9 941.1999999999999,1035.9" fill="#33e633" stroke="#136613" stroke-width="1.2"/>
<polygon points="933.6,1050.6 927.8000000000001,1060.1 939.4,1060.1" fill="#33e633" stroke="#136613" stroke-width="1.2"/>
<polygon points="949.7,1048.8 943.9000000000001,1058.3 955.5,1058.3" fill="#33e633" stroke="#136613" stroke-width="1.2"/>
<polygon points="961.1,1066 955.3000000000001,1075.5 966.9,1075.5" fill="#33e633" stroke="#136613" stroke-width="1.2"/>
<polygon points="973.6,1083.6 967.8000000000001,1093.1 979.4,1093.1" fill="#33e633" stroke="#136613" stroke-width="1.2"/>
<polygon points="861,1104.5 855.2,1114.0 866.8,1114.0" fill="#33e633" stroke="#136613" stroke-width="1.2"/>
<polygon points="827.4,1105.7 821.6,1115.2 833.1999999999999,1115.2" fill="#33e633" stroke="#136613" stroke-width="1.2"/>
<polygon points="922.6,1073.3 916.8000000000001,1082.8 928.4,1082.8" fill="#33e633" stroke="#136613" stroke-width="1.2"/>
<polygon points="946.1,1072.2 940.3000000000001,1081.7 951.9,1081.7" fill="#33e633" stroke="#136613" stroke-width="1.2"/>
<rect x="784.5" y="428" width="10" height="10" fill="#f07a1a" stroke="#a04a10" stroke-width="1"/>
<rect x="761.7" y="496.8" width="10" height="10" fill="#f07a1a" stroke="#a04a10" stroke-width="1"/>
<rect x="757" y="1055" width="10" height="10" fill="#f07a1a" stroke="#a04a10" stroke-width="1"/>
<rect x="774.2" y="496.8" width="10" height="10" fill="#f2a878" stroke="#2a1a10" stroke-width="2"/>
<rect x="789.3" y="506.3" width="10" height="10" fill="#f2a878" stroke="#2a1a10" stroke-width="2"/>
<circle cx="814.4" cy="522.4" r="4.8" fill="#f0a880" stroke="#3a2010" stroke-width="1.8"/>
<circle cx="831.9" cy="531.9" r="4.8" fill="#f0a880" stroke="#3a2010" stroke-width="1.8"/>
<circle cx="850.9" cy="541.9" r="4.8" fill="#f0a880" stroke="#3a2010" stroke-width="1.8"/>
<circle cx="870.7" cy="552" r="4.8" fill="#90f0e0" stroke="#1a4a3a" stroke-width="1.8"/>
<circle cx="889.1" cy="561.4" r="4.8" fill="#90f0e0" stroke="#1a4a3a" stroke-width="1.8"/>
<circle cx="911.9" cy="572" r="4.8" fill="#90f0e0" stroke="#1a4a3a" stroke-width="1.8"/>
<circle cx="935.6" cy="583.2" r="4.8" fill="#90f0e0" stroke="#1a4a3a" stroke-width="1.8"/>
<circle cx="958.7" cy="593" r="4.8" fill="#90f0e0" stroke="#1a4a3a" stroke-width="1.8"/>
<circle cx="982.4" cy="602.1" r="4.8" fill="#90f0e0" stroke="#1a4a3a" stroke-width="1.8"/>
<circle cx="1009.5" cy="610.8" r="4.8" fill="#50c8f0" stroke="#0a3a4a" stroke-width="1.8"/>
<circle cx="1031.8" cy="617.5" r="4.8" fill="#50c8f0" stroke="#0a3a4a" stroke-width="1.8"/>
<circle cx="1058" cy="626.4" r="4.8" fill="#50c8f0" stroke="#0a3a4a" stroke-width="1.8"/>
<circle cx="1081.7" cy="635.5" r="4.8" fill="#50c8f0" stroke="#0a3a4a" stroke-width="1.8"/>
<circle cx="1103.7" cy="644.4" r="4.8" fill="#50c8f0" stroke="#0a3a4a" stroke-width="1.8"/>
<circle cx="1130" cy="660.5" r="4.8" fill="#50c8f0" stroke="#0a3a4a" stroke-width="1.8"/>
<circle cx="1147.7" cy="680" r="4.8" fill="#50c8f0" stroke="#0a3a4a" stroke-width="1.8"/>
<circle cx="1162.2" cy="702.6" r="4.8" fill="#50c8f0" stroke="#0a3a4a" stroke-width="1.8"/>
<circle cx="1174" cy="730.3" r="4.8" fill="#50c8f0" stroke="#0a3a4a" stroke-width="1.8"/>
<circle cx="1180.7" cy="757.1" r="4.8" fill="#50c8f0" stroke="#0a3a4a" stroke-width="1.8"/>
<circle cx="1180.7" cy="785.8" r="4.8" fill="#50c8f0" stroke="#0a3a4a" stroke-width="1.8"/>
<circle cx="1176.9" cy="812.6" r="4.8" fill="#50c8f0" stroke="#0a3a4a" stroke-width="1.8"/>
<circle cx="1170.7" cy="837.6" r="4.8" fill="#50c8f0" stroke="#0a3a4a" stroke-width="1.8"/>
<circle cx="1158.8" cy="861.6" r="4.8" fill="#f09090" stroke="#4a1a10" stroke-width="1.8"/>
<circle cx="1145.8" cy="883.9" r="4.8" fill="#f09090" stroke="#4a1a10" stroke-width="1.8"/>
<circle cx="1127.4" cy="910.3" r="4.8" fill="#f09090" stroke="#4a1a10" stroke-width="1.8"/>
<circle cx="1106.5" cy="934.2" r="4.8" fill="#f09090" stroke="#4a1a10" stroke-width="1.8"/>
<circle cx="1088.1" cy="956.2" r="4.8" fill="#f09090" stroke="#4a1a10" stroke-width="1.8"/>
<circle cx="1066.1" cy="978.2" r="4.8" fill="#f09090" stroke="#4a1a10" stroke-width="1.8"/>
<circle cx="1044.9" cy="995.8" r="4.8" fill="#f09090" stroke="#4a1a10" stroke-width="1.8"/>
</g>
</defs>
<rect width="1435" height="1500" fill="#fff"/>
<rect x="3.5" y="2.5" width="822.5" height="1342" fill="#fff" stroke="#858585" stroke-width="1.6"/>
<g clip-path="url(#clipL)"><use href="#ear" transform="translate(1438,-153) scale(-1,1)"/></g>
<g stroke="#3a3020" stroke-width="0.85">
<line x1="358.0" y1="81.0" x2="397.8" y2="94.8"/>
<line x1="252.0" y1="110.0" x2="285.8" y2="151.4"/>
<line x1="418.7" y1="113.0" x2="418.7" y2="133.0"/>
<line x1="416.0" y1="104.0" x2="455.0" y2="99.0"/>
<line x1="347.0" y1="187.0" x2="347.0" y2="202.0"/>
<line x1="400.6" y1="176.0" x2="401.5" y2="195.0"/>
<line x1="460.6" y1="174.0" x2="459.0" y2="190.7"/>
<line x1="449.0" y1="220.8" x2="437.0" y2="234.3"/>
<line x1="237.6" y1="230.6" x2="264.3" y2="253.7"/>
<line x1="320.6" y1="241.7" x2="341.5" y2="232.0"/>
<line x1="368.9" y1="262.0" x2="368.9" y2="278.8"/>
<line x1="131.0" y1="273.0" x2="181.3" y2="296.4"/>
<line x1="125.5" y1="300.3" x2="160.9" y2="307.5"/>
<line x1="305.3" y1="291.4" x2="305.3" y2="306.7"/>
<line x1="359.7" y1="305.3" x2="360.5" y2="324.8"/>
<line x1="388.1" y1="302.5" x2="408.4" y2="301.1"/>
<line x1="241.7" y1="358.3" x2="256.5" y2="349.9"/>
<line x1="257.9" y1="369.4" x2="274.6" y2="368.6"/>
<line x1="366.6" y1="349.9" x2="387.5" y2="349.1"/>
<line x1="386.1" y1="384.7" x2="407.0" y2="376.4"/>
<line x1="84.5" y1="363.8" x2="138.9" y2="363.8"/>
<line x1="152.0" y1="386.0" x2="131.9" y2="430.2"/>
<line x1="211.4" y1="393.7" x2="211.4" y2="410.7"/>
<line x1="244.5" y1="393.1" x2="259.3" y2="394.0"/>
<line x1="322.0" y1="396.0" x2="341.5" y2="395.9"/>
<line x1="240.6" y1="420.1" x2="256.5" y2="419.0"/>
<line x1="298.3" y1="419.6" x2="280.2" y2="433.5"/>
<line x1="316.4" y1="432.1" x2="307.0" y2="444.7"/>
<line x1="382.0" y1="414.6" x2="394.5" y2="425.7"/>
<line x1="414.6" y1="412.6" x2="434.9" y2="402.3"/>
<line x1="362.4" y1="442.4" x2="350.5" y2="458.6"/>
<line x1="401.5" y1="446.0" x2="388.9" y2="455.3"/>
<line x1="255.1" y1="448.9" x2="272.4" y2="453.0"/>
<line x1="440.5" y1="269.0" x2="454.0" y2="251.0"/>
<line x1="549.4" y1="186.7" x2="540.4" y2="210.7"/>
<line x1="516.8" y1="210.7" x2="516.8" y2="228.3"/>
<line x1="536.9" y1="264.4" x2="553.4" y2="262.4"/>
<line x1="477.7" y1="285.0" x2="489.7" y2="272.5"/>
<line x1="506.8" y1="303.6" x2="500.3" y2="319.6"/>
<line x1="563.0" y1="290.0" x2="582.0" y2="290.0"/>
<line x1="547.0" y1="326.0" x2="561.0" y2="322.6"/>
<line x1="580.0" y1="339.0" x2="593.6" y2="335.2"/>
<line x1="568.5" y1="356.2" x2="580.5" y2="363.3"/>
<line x1="535.9" y1="375.3" x2="550.4" y2="371.3"/>
<line x1="434.0" y1="433.0" x2="454.0" y2="423.0"/>
<line x1="321.1" y1="497.7" x2="356.2" y2="519.3"/>
<line x1="447.6" y1="494.2" x2="461.6" y2="500.8"/>
<line x1="519.3" y1="473.2" x2="519.3" y2="490.7"/>
<line x1="562.0" y1="479.2" x2="575.5" y2="446.6"/>
<line x1="543.4" y1="519.3" x2="538.4" y2="539.4"/>
<line x1="453.1" y1="534.4" x2="469.1" y2="525.8"/>
<line x1="416.5" y1="526.8" x2="389.4" y2="512.8"/>
<line x1="470.1" y1="543.4" x2="487.7" y2="543.4"/>
<line x1="388.9" y1="540.9" x2="391.4" y2="557.0"/>
<line x1="441.5" y1="572.0" x2="454.1" y2="563.0"/>
<line x1="496.7" y1="570.5" x2="516.8" y2="576.0"/>
<line x1="352.7" y1="593.6" x2="371.3" y2="596.1"/>
<line x1="479.2" y1="584.5" x2="491.7" y2="593.0"/>
<line x1="444.0" y1="612.1" x2="460.6" y2="599.6"/>
<line x1="534.4" y1="607.1" x2="546.9" y2="595.6"/>
<line x1="567.0" y1="602.1" x2="567.0" y2="617.2"/>
<line x1="451.6" y1="634.7" x2="473.2" y2="647.3"/>
<line x1="542.0" y1="651.0" x2="548.5" y2="660.0"/>
<line x1="434.0" y1="654.8" x2="455.1" y2="664.8"/>
<line x1="501.8" y1="672.4" x2="511.8" y2="683.4"/>
<line x1="416.5" y1="692.4" x2="402.4" y2="707.5"/>
<line x1="441.5" y1="712.5" x2="453.1" y2="727.5"/>
<line x1="471.6" y1="711.0" x2="471.6" y2="725.0"/>
<line x1="523.0" y1="704.0" x2="541.9" y2="698.9"/>
<line x1="561.0" y1="722.0" x2="575.5" y2="726.0"/>
<line x1="353.7" y1="746.1" x2="368.8" y2="741.0"/>
<line x1="426.5" y1="737.6" x2="441.0" y2="745.0"/>
<line x1="74.0" y1="511.5" x2="91.6" y2="526.6"/>
<line x1="69.7" y1="588.0" x2="117.4" y2="587.5"/>
<line x1="90.3" y1="633.2" x2="114.7" y2="632.7"/>
<line x1="88.3" y1="672.8" x2="111.6" y2="672.8"/>
<line x1="102.4" y1="709.7" x2="140.5" y2="706.4"/>
<line x1="197.7" y1="471.9" x2="217.8" y2="473.9"/>
<line x1="183.1" y1="535.3" x2="201.5" y2="536.1"/>
<line x1="180.6" y1="601.8" x2="189.9" y2="609.8"/>
<line x1="178.1" y1="646.2" x2="192.4" y2="646.0"/>
<line x1="188.7" y1="689.6" x2="205.7" y2="681.3"/>
<line x1="214.5" y1="708.0" x2="229.6" y2="699.7"/>
<line x1="262.2" y1="702.2" x2="276.0" y2="688.4"/>
<line x1="220.8" y1="733.5" x2="240.3" y2="726.0"/>
<line x1="254.1" y1="751.1" x2="254.1" y2="767.4"/>
<line x1="294.8" y1="790.0" x2="321.1" y2="773.7"/>
<line x1="313.6" y1="472.1" x2="326.1" y2="478.1"/>
<line x1="309.1" y1="587.5" x2="324.9" y2="575.5"/>
<line x1="284.7" y1="590.0" x2="297.3" y2="599.3"/>
<line x1="312.3" y1="612.6" x2="326.1" y2="628.2"/>
<line x1="313.6" y1="658.3" x2="291.0" y2="695.9"/>
<line x1="315.6" y1="692.1" x2="315.6" y2="702.2"/>
<line x1="307.3" y1="714.7" x2="342.5" y2="702.2"/>
<line x1="142.8" y1="806.5" x2="184.7" y2="806.0"/>
<line x1="156.9" y1="868.9" x2="195.9" y2="868.9"/>
<line x1="258.3" y1="837.0" x2="274.6" y2="836.6"/>
<line x1="319.7" y1="819.2" x2="332.4" y2="815.2"/>
<line x1="382.5" y1="781.3" x2="385.9" y2="804.7"/>
<line x1="407.0" y1="791.3" x2="408.6" y2="809.1"/>
<line x1="328.0" y1="842.6" x2="324.6" y2="836.3"/>
<line x1="299.2" y1="859.3" x2="310.8" y2="866.0"/>
<line x1="360.9" y1="874.9" x2="365.4" y2="860.4"/>
<line x1="265.0" y1="877.2" x2="276.2" y2="860.4"/>
<line x1="306.3" y1="896.1" x2="303.6" y2="879.4"/>
<line x1="371.6" y1="912.8" x2="367.6" y2="931.1"/>
<line x1="331.9" y1="944.0" x2="340.9" y2="956.3"/>
<line x1="304.1" y1="954.1" x2="314.5" y2="973.5"/>
<line x1="227.6" y1="969.7" x2="290.7" y2="971.3"/>
<line x1="307.4" y1="992.0" x2="331.9" y2="969.7"/>
<line x1="242.7" y1="990.9" x2="272.2" y2="982.0"/>
<line x1="326.4" y1="998.0" x2="333.7" y2="990.9"/>
<line x1="355.4" y1="1011.0" x2="346.9" y2="999.1"/>
<line x1="276.2" y1="1033.3" x2="325.7" y2="1027.2"/>
<line x1="469.5" y1="767.9" x2="486.2" y2="762.3"/>
<line x1="460.6" y1="792.4" x2="453.4" y2="804.7"/>
<line x1="418.2" y1="814.7" x2="404.8" y2="834.8"/>
<line x1="544.2" y1="798.0" x2="527.9" y2="840.4"/>
<line x1="428.2" y1="823.0" x2="441.6" y2="819.2"/>
<line x1="506.3" y1="811.4" x2="501.4" y2="852.6"/>
<line x1="453.9" y1="843.7" x2="459.0" y2="864.4"/>
<line x1="481.8" y1="850.4" x2="478.4" y2="862.7"/>
<line x1="517.4" y1="863.8" x2="501.8" y2="877.8"/>
<line x1="411.5" y1="863.8" x2="431.1" y2="857.1"/>
<line x1="412.6" y1="882.3" x2="416.0" y2="869.3"/>
<line x1="446.1" y1="880.5" x2="441.0" y2="871.6"/>
<line x1="485.1" y1="882.7" x2="495.6" y2="892.3"/>
<line x1="529.7" y1="885.0" x2="503.4" y2="901.7"/>
<line x1="462.8" y1="897.2" x2="472.2" y2="894.5"/>
<line x1="465.0" y1="909.9" x2="488.0" y2="901.0"/>
<line x1="462.8" y1="922.9" x2="476.2" y2="918.4"/>
<line x1="452.8" y1="937.4" x2="464.4" y2="935.6"/>
<line x1="558.7" y1="908.4" x2="515.2" y2="924.7"/>
<line x1="562.0" y1="937.4" x2="530.8" y2="928.0"/>
<line x1="505.2" y1="940.7" x2="492.2" y2="924.0"/>
<line x1="558.7" y1="971.9" x2="557.1" y2="957.4"/>
<line x1="584.3" y1="986.4" x2="576.5" y2="957.4"/>
<line x1="496.3" y1="967.5" x2="488.0" y2="959.2"/>
<line x1="417.1" y1="985.3" x2="441.0" y2="957.4"/>
<line x1="478.4" y1="992.0" x2="485.1" y2="976.4"/>
<line x1="443.8" y1="1002.0" x2="446.7" y2="985.3"/>
<line x1="526.8" y1="1000.9" x2="524.0" y2="1011.0"/>
<line x1="399.2" y1="1021.0" x2="389.2" y2="1005.4"/>
<line x1="471.7" y1="1023.2" x2="488.9" y2="1014.3"/>
<line x1="523.0" y1="1032.1" x2="562.0" y2="1019.2"/>
<line x1="586.6" y1="1027.7" x2="581.4" y2="1017.7"/>
<line x1="508.5" y1="1050.0" x2="516.8" y2="1054.4"/>
<line x1="558.7" y1="1045.5" x2="555.3" y2="1032.1"/>
<line x1="355.8" y1="1063.4" x2="368.0" y2="1059.0"/>
<line x1="478.4" y1="1071.2" x2="480.6" y2="1081.7"/>
<line x1="442.7" y1="1073.0" x2="430.9" y2="1053.8"/>
<line x1="541.3" y1="1072.0" x2="541.3" y2="1062.3"/>
<line x1="508.5" y1="1085.7" x2="505.2" y2="1074.1"/>
<line x1="406.6" y1="1088.0" x2="410.8" y2="1080.8"/>
<line x1="450.5" y1="1100.0" x2="450.5" y2="1114.3"/>
<line x1="323.4" y1="1098.0" x2="331.2" y2="1090.2"/>
<line x1="343.5" y1="1123.6" x2="354.0" y2="1115.8"/>
<line x1="501.8" y1="1112.5" x2="513.6" y2="1106.2"/>
<line x1="399.2" y1="1119.2" x2="388.8" y2="1109.8"/>
<line x1="524.1" y1="1130.0" x2="524.1" y2="1118.1"/>
<line x1="340.1" y1="1161.5" x2="371.8" y2="1140.4"/>
<line x1="358.4" y1="1171.6" x2="391.9" y2="1141.5"/>
<line x1="425.3" y1="1160.9" x2="445.0" y2="1154.9"/>
<line x1="562.0" y1="1159.0" x2="562.0" y2="1141.5"/>
<line x1="526.4" y1="1173.0" x2="526.4" y2="1158.2"/>
<line x1="523.0" y1="1219.0" x2="523.0" y2="1202.4"/>
<line x1="408.2" y1="1265.2" x2="443.8" y2="1233.4"/>
<line x1="520.8" y1="1312.5" x2="535.3" y2="1285.8"/>
<line x1="278.5" y1="1065.3" x2="307.1" y2="1057.3"/>
<line x1="646.8" y1="149.2" x2="588.2" y2="175.3"/>
<line x1="659.7" y1="167.9" x2="605.3" y2="193.0"/>
<line x1="679.6" y1="192.0" x2="622.1" y2="211.4"/>
<line x1="739.1" y1="251.5" x2="706.1" y2="272.9"/>
<line x1="656.6" y1="272.4" x2="648.6" y2="280.2"/>
<line x1="717.2" y1="295.0" x2="659.7" y2="305.9"/>
<line x1="678.5" y1="320.1" x2="661.8" y2="326.8"/>
<line x1="729.7" y1="336.6" x2="680.6" y2="336.6"/>
<line x1="686.9" y1="358.2" x2="672.2" y2="349.8"/>
<line x1="622.1" y1="331.0" x2="612.0" y2="349.8"/>
<line x1="693.1" y1="401.0" x2="670.2" y2="407.9"/>
<line x1="616.2" y1="413.0" x2="616.2" y2="431.8"/>
<line x1="681.6" y1="436.6" x2="658.7" y2="436.6"/>
<line x1="645.1" y1="456.9" x2="611.6" y2="454.8"/>
<line x1="595.9" y1="465.0" x2="595.9" y2="440.1"/>
<line x1="669.1" y1="483.0" x2="653.4" y2="482.6"/>
<line x1="660.7" y1="538.8" x2="645.5" y2="538.4"/>
<line x1="595.9" y1="563.5" x2="570.8" y2="556.2"/>
<line x1="627.3" y1="587.5" x2="610.6" y2="587.5"/>
<line x1="610.6" y1="609.9" x2="587.6" y2="606.8"/>
<line x1="669.1" y1="634.6" x2="651.3" y2="645.0"/>
<line x1="602.2" y1="633.1" x2="583.0" y2="644.4"/>
<line x1="713.0" y1="652.8" x2="694.6" y2="652.3"/>
<line x1="702.6" y1="665.9" x2="680.0" y2="663.4"/>
<line x1="745.4" y1="678.9" x2="725.6" y2="678.9"/>
<line x1="710.9" y1="695.8" x2="687.5" y2="677.0"/>
<line x1="655.5" y1="685.0" x2="655.5" y2="677.9"/>
<line x1="701.5" y1="712.6" x2="679.1" y2="701.5"/>
<line x1="679.6" y1="716.1" x2="667.0" y2="708.4"/>
<line x1="610.6" y1="666.0" x2="604.7" y2="673.7"/>
<line x1="600.5" y1="694.2" x2="603.7" y2="708.8"/>
<line x1="698.4" y1="741.6" x2="679.6" y2="741.6"/>
<line x1="714.0" y1="771.3" x2="698.4" y2="760.9"/>
<line x1="652.8" y1="764.6" x2="662.4" y2="758.4"/>
<line x1="687.9" y1="810.6" x2="673.3" y2="793.9"/>
<line x1="641.9" y1="819.0" x2="638.8" y2="812.7"/>
<line x1="584.4" y1="809.6" x2="575.4" y2="817.3"/>
<line x1="586.5" y1="829.9" x2="571.3" y2="837.2"/>
<line x1="587.6" y1="853.5" x2="580.2" y2="859.3"/>
<line x1="587.6" y1="881.7" x2="579.6" y2="882.8"/>
<line x1="701.5" y1="851.4" x2="687.5" y2="843.7"/>
<line x1="694.2" y1="863.9" x2="675.4" y2="854.5"/>
<line x1="699.4" y1="885.3" x2="683.7" y2="880.7"/>
<line x1="698.4" y1="906.8" x2="675.8" y2="906.8"/>
<line x1="662.8" y1="921.4" x2="649.9" y2="912.7"/>
<line x1="634.6" y1="950.7" x2="624.2" y2="953.8"/>
<line x1="629.4" y1="965.3" x2="610.6" y2="957.0"/>
<line x1="662.8" y1="975.8" x2="645.1" y2="976.8"/>
<line x1="650.7" y1="988.3" x2="600.5" y2="976.8"/>
<line x1="624.2" y1="1001.5" x2="609.5" y2="1000.5"/>
<line x1="667.0" y1="1016.6" x2="657.6" y2="1015.1"/>
<line x1="652.0" y1="1029.7" x2="637.0" y2="1017.7"/>
<line x1="664.0" y1="1044.4" x2="643.2" y2="1044.4"/>
<line x1="614.6" y1="1035.0" x2="608.7" y2="1019.1"/>
<line x1="657.3" y1="1084.4" x2="667.2" y2="1093.0"/>
<line x1="630.6" y1="1106.0" x2="630.6" y2="1120.4"/>
<line x1="678.6" y1="1123.1" x2="670.6" y2="1109.8"/>
<line x1="604.5" y1="1131.0" x2="604.5" y2="1118.6"/>
<line x1="673.5" y1="1151.5" x2="640.0" y2="1151.5"/>
<line x1="614.3" y1="1199.0" x2="614.3" y2="1185.0"/>
<line x1="698.6" y1="1243.5" x2="674.5" y2="1218.4"/>
<line x1="650.5" y1="1289.5" x2="612.8" y2="1236.2"/>
<line x1="600.7" y1="1312.5" x2="579.4" y2="1250.8"/>
</g>
<g clip-path="url(#clipL)"><use href="#earfg" transform="translate(1438,-153) scale(-1,1)"/></g>
<g font-size="7.7" fill="#2a1e0e" style="-webkit-font-smoothing:antialiased">
<text x="357.0" y="80.0" text-anchor="end">Apex of Ear</text>
<text x="251.0" y="107.4" text-anchor="middle">Tonsil 1</text>
<text x="418.0" y="141.4" text-anchor="middle">ALLERGY POINT</text>
<text x="457.0" y="101.0" text-anchor="start">ALLERGY</text>
<text x="348.5" y="209.0" text-anchor="middle">Toes.C</text>
<text x="401.5" y="200.8" text-anchor="middle">Foot.C</text>
<text x="458.0" y="197.0" text-anchor="middle">Heel.C</text>
<text x="447.6" y="216.5" text-anchor="middle">Ankle.C</text>
<text x="236.0" y="231.4" text-anchor="end">Fingers</text>
<text x="344.3" y="234.2" text-anchor="start">Appendix Disorder 1</text>
<text x="372.0" y="258.5" text-anchor="middle">Thumb</text>
<text x="128.3" y="273.2" text-anchor="end">Lesser Occipital Nerve</text>
<text x="122.7" y="301.1" text-anchor="end">Liver Yang 1</text>
<text x="306.0" y="315.9" text-anchor="middle">Calf.C</text>
<text x="359.0" y="331.0" text-anchor="middle">Popliteal Fossa</text>
<text x="411.2" y="303.1" text-anchor="start">Knee C.1</text>
<text x="260.7" y="351.3" text-anchor="start">Skin Disorders.C</text>
<text x="276.9" y="370.8" text-anchor="start">Hand</text>
<text x="390.3" y="351.3" text-anchor="start">Thigh.C</text>
<text x="408.4" y="378.3" text-anchor="start">SHEN MEN</text>
<text x="82.3" y="366.1" text-anchor="end">Helix 1</text>
<text x="136.7" y="382.0" text-anchor="start">Liver Yang 2</text>
<text x="210.5" y="390.9" text-anchor="middle">Insomnia 1</text>
<text x="261.3" y="396.7" text-anchor="start">Knee 2.C</text>
<text x="320.6" y="398.7" text-anchor="end">Hip.C</text>
<text x="258.5" y="420.1" text-anchor="start">Wrist</text>
<text x="309.6" y="415.4" text-anchor="middle">Abdomen</text>
<text x="320.0" y="428.0" text-anchor="middle">Heat</text>
<text x="370.8" y="413.4" text-anchor="middle">Pelvis</text>
<text x="436.9" y="403.4" text-anchor="start">Hip.E</text>
<text x="363.5" y="439.1" text-anchor="middle">Lumbago</text>
<text x="407.0" y="442.4" text-anchor="middle">Buttocks</text>
<text x="254.6" y="448.9" text-anchor="end">Coxalgia</text>
<text x="454.0" y="247.4" text-anchor="start">Hepatitis</text>
<text x="555.0" y="182.1" text-anchor="middle">Toes.E</text>
<text x="514.0" y="234.8" text-anchor="middle">Hypertension 1</text>
<text x="535.4" y="265.9" text-anchor="end">Uterus.C</text>
<text x="465.0" y="290.0" text-anchor="middle">Cervix</text>
<text x="511.0" y="297.0" text-anchor="middle">Antihistamine</text>
<text x="584.5" y="290.0" text-anchor="start">Ankle.E</text>
<text x="544.4" y="329.2" text-anchor="end">Knee.E</text>
<text x="578.0" y="340.2" text-anchor="end">Calf.E</text>
<text x="567.0" y="354.7" text-anchor="end">Sciatic Nerve</text>
<text x="534.4" y="377.3" text-anchor="end">Thigh.E</text>
<text x="456.6" y="423.0" text-anchor="start">Groin</text>
<text x="356.2" y="521.8" text-anchor="start">Heart.E</text>
<text x="464.1" y="503.3" text-anchor="start">Ureter.C</text>
<text x="514.0" y="497.7" text-anchor="middle">Bladder</text>
<text x="556.0" y="484.7" text-anchor="middle">Prostate.C</text>
<text x="546.0" y="513.3" text-anchor="middle">Large Intestine</text>
<text x="499.0" y="525.3" text-anchor="middle">Mercury Toxicity</text>
<text x="419.0" y="535.4" text-anchor="middle">Kidney.C</text>
<text x="490.7" y="544.4" text-anchor="start">Omega 1</text>
<text x="398.0" y="564.5" text-anchor="middle">Ascites</text>
<text x="428.0" y="577.0" text-anchor="middle">Alcoholic</text>
<text x="519.3" y="577.0" text-anchor="start">Small Intestine</text>
<text x="373.8" y="597.1" text-anchor="start">Gallbladder</text>
<text x="491.7" y="595.6" text-anchor="start">Appendix</text>
<text x="426.0" y="614.7" text-anchor="middle">Duodenum</text>
<text x="514.0" y="612.1" text-anchor="middle">Diaphragm.C</text>
<text x="560.0" y="624.7" text-anchor="middle">Libido</text>
<text x="427.0" y="632.2" text-anchor="middle">POINT ZERO</text>
<text x="537.6" y="643.7" text-anchor="middle">Esophagus</text>
<text x="430.0" y="656.3" text-anchor="end">Stomach</text>
<text x="500.5" y="664.8" text-anchor="middle">Cardiac Orifice</text>
<text x="417.0" y="687.4" text-anchor="middle">Diaphragm.E</text>
<text x="440.0" y="709.0" text-anchor="middle">Lung 1</text>
<text x="472.0" y="706.5" text-anchor="middle">Bronchi</text>
<text x="521.8" y="706.5" text-anchor="end">Vision 3</text>
<text x="559.5" y="724.0" text-anchor="end">Throat.E</text>
<text x="340.0" y="727.5" text-anchor="middle">Cervical Ganglia</text>
<text x="338.7" y="736.0" text-anchor="middle">(Middle)</text>
<text x="371.3" y="741.0" text-anchor="start">Spleen.C</text>
<text x="441.5" y="747.6" text-anchor="start">Muscle Relaxation</text>
<text x="525.6" y="741.6" text-anchor="middle">Trachea</text>
<text x="59.7" y="499.0" text-anchor="middle">Lumbosacral</text>
<text x="59.7" y="507.2" text-anchor="middle">Spinal Cord</text>
<text x="59.7" y="515.3" text-anchor="middle">Area</text>
<text x="66.5" y="590.0" text-anchor="end">Helix 2</text>
<text x="86.0" y="636.4" text-anchor="end">Skin Disorders.E</text>
<text x="59.7" y="675.8" text-anchor="middle">Thoracic Spinal</text>
<text x="59.7" y="683.9" text-anchor="middle">Cord Area</text>
<text x="99.8" y="712.2" text-anchor="end">Tonsil 2</text>
<text x="194.4" y="473.4" text-anchor="end">Forearm</text>
<text x="179.4" y="537.3" text-anchor="end">Elbow</text>
<text x="173.1" y="591.3" text-anchor="middle">Appendix</text>
<text x="173.1" y="599.3" text-anchor="middle">Disorder 2</text>
<text x="176.1" y="648.2" text-anchor="end">Arm</text>
<text x="207.7" y="681.6" text-anchor="start">Breast</text>
<text x="212.7" y="712.2" text-anchor="end">Clavicle.E</text>
<text x="260.9" y="707.2" text-anchor="end">Chest</text>
<text x="242.1" y="728.0" text-anchor="start">Shoulder</text>
<text x="252.0" y="774.9" text-anchor="middle">Mammary Gland.C</text>
<text x="293.0" y="792.5" text-anchor="end">Thyroid Gland.E</text>
<text x="293.0" y="468.9" text-anchor="middle">Adrenal Gland.E</text>
<text x="326.1" y="576.7" text-anchor="start">Pancreas</text>
<text x="298.5" y="603.1" text-anchor="start">Thymus Gland</text>
<text x="328.1" y="632.7" text-anchor="start">Spleen.E</text>
<text x="297.3" y="654.5" text-anchor="start">Mammary Gland.E</text>
<text x="315.0" y="689.1" text-anchor="middle">Liver</text>
<text x="356.0" y="692.0" text-anchor="middle">Cervical Ganglia</text>
<text x="357.5" y="700.0" text-anchor="middle">(Inferior)</text>
<text x="229.6" y="562.4" text-anchor="middle">Intercostal</text>
<text x="229.6" y="570.5" text-anchor="middle">Area</text>
<text x="139.7" y="808.0" text-anchor="end">Helix 3</text>
<text x="136.8" y="865.3" text-anchor="middle">Cervical Spinal</text>
<text x="136.8" y="873.1" text-anchor="middle">Cord Area</text>
<text x="239.4" y="835.5" text-anchor="middle">Shoulder</text>
<text x="239.4" y="843.0" text-anchor="middle">Master</text>
<text x="317.4" y="821.4" text-anchor="end">Thyroid Gland.C</text>
<text x="356.0" y="777.5" text-anchor="start">Parathyroid Gland</text>
<text x="387.0" y="786.8" text-anchor="start">Toothache 3</text>
<text x="330.8" y="854.9" text-anchor="middle">Cerebellum</text>
<text x="311.4" y="871.1" text-anchor="start">Insomnia 2</text>
<text x="353.0" y="882.3" text-anchor="middle">Neck</text>
<text x="256.8" y="884.5" text-anchor="middle">Appendix</text>
<text x="256.8" y="892.8" text-anchor="middle">Disorder 3</text>
<text x="304.3" y="902.8" text-anchor="middle">Clavicle.C</text>
<text x="388.0" y="857.1" text-anchor="middle">Dizziness</text>
<text x="396.0" y="869.3" text-anchor="middle">Occiput</text>
<text x="401.0" y="889.0" text-anchor="middle">Brainstem Point</text>
<text x="374.0" y="908.8" text-anchor="middle">TMJ</text>
<text x="328.7" y="939.6" text-anchor="middle">Antidepressant</text>
<text x="296.3" y="950.3" text-anchor="middle">Nephritis</text>
<text x="224.9" y="971.5" text-anchor="end">Tonsil 3</text>
<text x="333.7" y="971.5" text-anchor="start">Sexual Suppression</text>
<text x="219.8" y="994.2" text-anchor="middle">Upper Limb</text>
<text x="219.8" y="1002.0" text-anchor="middle">Master</text>
<text x="334.6" y="985.8" text-anchor="start">Jaw (Lower)</text>
<text x="359.4" y="1019.2" text-anchor="middle">Salivary</text>
<text x="359.4" y="1026.6" text-anchor="middle">Gland.E</text>
<text x="271.7" y="1035.5" text-anchor="end">Helix 4</text>
<text x="487.3" y="762.3" text-anchor="start">Heart.C</text>
<text x="585.5" y="762.3" text-anchor="middle">Pituitary Gland</text>
<text x="585.5" y="770.1" text-anchor="middle">Posterior</text>
<text x="469.0" y="788.0" text-anchor="middle">Lung 2</text>
<text x="431.6" y="796.9" text-anchor="middle">Cervical</text>
<text x="431.6" y="804.7" text-anchor="middle">Ganglia</text>
<text x="431.6" y="812.5" text-anchor="middle">(Superior)</text>
<text x="546.4" y="785.7" text-anchor="middle">Hypothalamus</text>
<text x="546.4" y="793.5" text-anchor="middle">Anterior</text>
<text x="468.4" y="820.3" text-anchor="middle">Hypothalamus</text>
<text x="468.4" y="828.1" text-anchor="middle">Posterior</text>
<text x="505.5" y="806.5" text-anchor="middle">Epilepsy</text>
<text x="449.4" y="839.2" text-anchor="middle">Toothache 2</text>
<text x="484.5" y="844.8" text-anchor="middle">Asthma</text>
<text x="535.8" y="858.2" text-anchor="middle">Salivary Gland.C</text>
<text x="449.4" y="887.2" text-anchor="middle">Brain</text>
<text x="478.4" y="879.4" text-anchor="middle">Temples</text>
<text x="549.8" y="873.8" text-anchor="middle">Subcortex</text>
<text x="549.8" y="881.6" text-anchor="middle">(Coronary)</text>
<text x="433.4" y="901.7" text-anchor="middle">Occipital Cortex</text>
<text x="443.9" y="913.5" text-anchor="middle">Sex Glands</text>
<text x="438.8" y="926.2" text-anchor="middle">Excitement</text>
<text x="431.6" y="940.3" text-anchor="middle">THALAMUS</text>
<text x="582.1" y="905.0" text-anchor="middle">Subcortex</text>
<text x="582.1" y="912.8" text-anchor="middle">(Nervous)</text>
<text x="582.7" y="940.3" text-anchor="middle">Forehead</text>
<text x="521.9" y="948.5" text-anchor="middle">Subcortex</text>
<text x="521.9" y="956.3" text-anchor="middle">(Digestive)</text>
<text x="561.0" y="978.6" text-anchor="middle">Vision 2</text>
<text x="578.0" y="994.2" text-anchor="middle">Thyrotropins</text>
<text x="504.0" y="975.3" text-anchor="middle">Memory 2</text>
<text x="407.6" y="992.0" text-anchor="middle">Hippocampus</text>
<text x="481.3" y="997.6" text-anchor="middle">Auditory Line</text>
<text x="438.8" y="1009.8" text-anchor="middle">Temporal Cortex</text>
<text x="526.0" y="1017.7" text-anchor="middle">Striatum</text>
<text x="405.4" y="1029.2" text-anchor="middle">Jaw (Upper)</text>
<text x="451.6" y="1026.6" text-anchor="middle">Midbrain</text>
<text x="451.6" y="1033.9" text-anchor="middle">Tectum</text>
<text x="499.3" y="1034.8" text-anchor="middle">Red Nucleus</text>
<text x="588.0" y="1034.4" text-anchor="middle">Amygdala</text>
<text x="477.3" y="1050.4" text-anchor="middle">Substantia Nigra</text>
<text x="558.5" y="1053.8" text-anchor="middle">Frontal Sinus</text>
<text x="371.8" y="1059.6" text-anchor="start">Toothache 1</text>
<text x="474.0" y="1065.6" text-anchor="middle">Palate 2</text>
<text x="443.0" y="1079.0" text-anchor="middle">Tongue.E</text>
<text x="542.0" y="1080.8" text-anchor="middle">Palate 1</text>
<text x="508.8" y="1092.9" text-anchor="middle">Tongue.C</text>
<text x="408.5" y="1095.1" text-anchor="middle">Vomiting</text>
<text x="449.8" y="1096.9" text-anchor="middle">Face</text>
<text x="314.0" y="1104.0" text-anchor="middle">Pons</text>
<text x="341.3" y="1127.0" text-anchor="end">Midbrain Tegmentum</text>
<text x="484.7" y="1116.3" text-anchor="middle">MASTER</text>
<text x="484.7" y="1124.3" text-anchor="middle">SENSORIAL</text>
<text x="414.5" y="1125.4" text-anchor="middle">Sneezing</text>
<text x="525.0" y="1138.6" text-anchor="middle">Eye</text>
<text x="338.4" y="1163.8" text-anchor="end">Trigeminal Nerve</text>
<text x="354.6" y="1176.5" text-anchor="end">Helix 5</text>
<text x="446.5" y="1157.1" text-anchor="start">Ear (Inner).C</text>
<text x="564.3" y="1166.0" text-anchor="middle">Frontal Cortex</text>
<text x="524.0" y="1181.2" text-anchor="middle">Parietal Cortex</text>
<text x="523.4" y="1227.3" text-anchor="middle">Tonsil 4</text>
<text x="398.0" y="1271.3" text-anchor="middle">Lips</text>
<text x="518.3" y="1320.6" text-anchor="middle">Helix 6</text>
<text x="277.5" y="1067.8" text-anchor="end">Brainstem Area</text>
<text x="651.7" y="148.5" text-anchor="start">Kidney.E</text>
<text x="663.9" y="169.0" text-anchor="start">Hemorrhoids 1.C</text>
<text x="683.7" y="191.3" text-anchor="start">Omega 2</text>
<text x="763.2" y="243.2" text-anchor="middle">Psychosomatic</text>
<text x="763.2" y="250.9" text-anchor="middle">Reactions 1</text>
<text x="660.0" y="268.7" text-anchor="middle">Foot.E</text>
<text x="721.4" y="295.9" text-anchor="start">Ureter.E</text>
<text x="681.6" y="321.6" text-anchor="start">SYMPATHETIC AUTONOMIC POINT</text>
<text x="730.8" y="338.3" text-anchor="start">Genitals (External).C</text>
<text x="693.1" y="361.3" text-anchor="start">Heel.E</text>
<text x="624.7" y="326.2" text-anchor="middle">Constipation</text>
<text x="697.3" y="402.5" text-anchor="start">Uterus.E</text>
<text x="618.0" y="408.8" text-anchor="middle">Rectum.E</text>
<text x="684.8" y="438.0" text-anchor="start">Prostate.E or Vagina</text>
<text x="648.2" y="459.0" text-anchor="start">Hemorrhoids 2.C</text>
<text x="596.0" y="473.6" text-anchor="middle">Urethra.E</text>
<text x="671.2" y="484.0" text-anchor="start">Urethra.C</text>
<text x="662.8" y="539.9" text-anchor="start">Rectum.C</text>
<text x="601.2" y="565.0" text-anchor="start">Ovary.E or Testes.E</text>
<text x="631.5" y="589.0" text-anchor="start">Genitals (External).E</text>
<text x="617.9" y="611.0" text-anchor="start">Lower Limb Master</text>
<text x="691.0" y="633.5" text-anchor="middle">Interferon</text>
<text x="617.3" y="631.0" text-anchor="middle">Mouth</text>
<text x="714.0" y="654.4" text-anchor="start">Ear (External).C</text>
<text x="704.6" y="667.6" text-anchor="start">Throat.C</text>
<text x="759.0" y="678.5" text-anchor="middle">Nose</text>
<text x="759.0" y="686.4" text-anchor="middle">(External).C</text>
<text x="725.0" y="699.0" text-anchor="middle">Vitality</text>
<text x="657.0" y="691.4" text-anchor="middle">Apex of Tragus</text>
<text x="703.6" y="714.6" text-anchor="start">Ear (Auditory).E</text>
<text x="665.3" y="706.7" text-anchor="end">Thirst</text>
<text x="612.7" y="654.4" text-anchor="middle">Parasympathetic</text>
<text x="612.7" y="663.2" text-anchor="middle">Sacral Nerves</text>
<text x="596.0" y="688.9" text-anchor="middle">Vagus Nerve</text>
<text x="623.1" y="723.4" text-anchor="middle">Adrenal</text>
<text x="623.1" y="731.8" text-anchor="middle">Gland.C</text>
<text x="701.5" y="742.7" text-anchor="start">MASTER OSCILLATION</text>
<text x="718.2" y="773.4" text-anchor="start">Appetite Control</text>
<text x="638.8" y="767.1" text-anchor="middle">Corpus</text>
<text x="638.8" y="775.1" text-anchor="middle">Callosum</text>
<text x="700.9" y="817.3" text-anchor="middle">Reticular</text>
<text x="700.9" y="825.3" text-anchor="middle">Formation</text>
<text x="651.0" y="826.3" text-anchor="middle">Nicotine</text>
<text x="587.6" y="809.0" text-anchor="start">San Jiao</text>
<text x="589.7" y="829.4" text-anchor="start">Prolactin</text>
<text x="604.7" y="848.7" text-anchor="middle">Pituitary Gland</text>
<text x="604.7" y="856.2" text-anchor="middle">Anterior</text>
<text x="605.3" y="872.9" text-anchor="middle">Parasympathetic</text>
<text x="605.3" y="881.3" text-anchor="middle">Cranial</text>
<text x="605.3" y="889.0" text-anchor="middle">Nerves</text>
<text x="703.6" y="853.9" text-anchor="start">Hypertension 2</text>
<text x="696.3" y="866.0" text-anchor="start">Nose (Inner).C</text>
<text x="702.6" y="887.6" text-anchor="start">TRANQUILIZER</text>
<text x="701.9" y="908.9" text-anchor="start">ACTH</text>
<text x="676.5" y="923.5" text-anchor="middle">Mania</text>
<text x="636.7" y="951.8" text-anchor="start">Vision 1</text>
<text x="633.1" y="967.0" text-anchor="start">ENDOCRINE</text>
<text x="665.3" y="976.8" text-anchor="start">Pineal Gland</text>
<text x="654.5" y="990.8" text-anchor="start">Cingulate Gyrus</text>
<text x="627.3" y="1003.0" text-anchor="start">Nucleus Accumbens</text>
<text x="670.2" y="1018.7" text-anchor="start">Olfactory Bulb</text>
<text x="653.3" y="1033.7" text-anchor="start">Limbic Brain</text>
<text x="668.0" y="1045.7" text-anchor="start">Olfactory Nerve</text>
<text x="634.6" y="1043.6" text-anchor="end">Hypotension</text>
<text x="635.3" y="1077.2" text-anchor="middle">Optic Nerve</text>
<text x="628.6" y="1101.8" text-anchor="middle">Prefrontal Cortex</text>
<text x="687.3" y="1129.0" text-anchor="middle">MASTER CEREBRAL</text>
<text x="608.0" y="1138.6" text-anchor="middle">Dental Analgesia 1</text>
<text x="675.6" y="1152.6" text-anchor="start">Nose (External).E</text>
<text x="615.0" y="1207.0" text-anchor="middle">Dental Analgesia 2</text>
<text x="701.0" y="1250.8" text-anchor="middle">Prostaglandin</text>
<text x="653.0" y="1295.8" text-anchor="middle">Anxious</text>
<text x="602.4" y="1319.8" text-anchor="middle">Psychosomatic Reactions 2</text>
<text x="0" y="0" font-size="7.8" text-anchor="middle" dominant-baseline="central" transform="translate(271.8,284.4) rotate(-57)">Allergic Area</text>
<text x="0" y="0" font-size="7.8" text-anchor="middle" dominant-baseline="central" transform="translate(141.7,527.8) rotate(-83)">Sympathetic Preganglionic Nerves Area</text>
<text x="0" y="0" font-size="7.8" text-anchor="middle" dominant-baseline="central" transform="translate(356.0,468.0) rotate(-27)">Thoracic Spine</text>
<text x="0" y="0" font-size="7.8" text-anchor="middle" dominant-baseline="central" transform="translate(509.0,416.0) rotate(-25)">Lumbar Spine</text>
<text x="0" y="0" font-size="7.6" text-anchor="middle" dominant-baseline="central" transform="translate(431.5,472.0) rotate(-20)">Sympathetic Postganglionic Nerves Area</text>
<text x="0" y="0" font-size="7.8" text-anchor="middle" dominant-baseline="central" transform="translate(316.0,751.0) rotate(52)">Cervical Spine</text>
<text x="0" y="0" font-size="7.4" text-anchor="middle" dominant-baseline="central" transform="translate(361.0,829.0) rotate(48)">Neurasthenia</text>
<text x="0" y="0" font-size="7.4" text-anchor="middle" dominant-baseline="central" transform="translate(354.5,838.5) rotate(48)">Area</text>
<text x="0" y="0" font-size="7.2" text-anchor="middle" dominant-baseline="central" transform="translate(405.5,1191.0) rotate(57)">Trigeminal</text>
<text x="0" y="0" font-size="7.2" text-anchor="middle" dominant-baseline="central" transform="translate(397.0,1197.0) rotate(57)">Nucleus Area</text>
<text x="0" y="0" font-size="7.5" text-anchor="middle" dominant-baseline="central" transform="translate(608.5,368.6) rotate(-30)">Sacral Spine</text>
</g>
<g transform="translate(0,0)">
<rect x="25.8" y="963" width="158" height="332.5" rx="2.5" fill="#fff" stroke="#2b2b2b" stroke-width="2"/>
<text x="103.3" y="987.2" font-size="16.3" text-anchor="middle" fill="#222">Legend</text>
<text x="70" y="1006.8" font-size="11.8" text-anchor="middle" fill="#222">Nogier</text>
<text x="134" y="1006.8" font-size="11.8" text-anchor="middle" fill="#222">Frequency</text>
<line x1="51" y1="1012.5" x2="164.5" y2="1012.5" stroke="#9a9a9a" stroke-width="1"/>
<line x1="95.5" y1="1014" x2="95.5" y2="1146" stroke="#555" stroke-width="1"/>
<rect x="32.7" y="1019.4" width="15.4" height="15" fill="#e8936a"/>
<text x="70.6" y="1030.9" font-size="11" text-anchor="middle" fill="#222">A</text>
<text x="134" y="1030.9" font-size="11" text-anchor="middle" fill="#222">2.3 Hz</text>
<rect x="32.7" y="1038.3" width="15.4" height="15" fill="#d0574a"/>
<text x="70.6" y="1049.8" font-size="11" text-anchor="middle" fill="#222">B</text>
<text x="134" y="1049.8" font-size="11" text-anchor="middle" fill="#222">4.6 Hz</text>
<rect x="32.7" y="1057.4" width="15.4" height="15" fill="#e2b043"/>
<text x="70.6" y="1068.9" font-size="11" text-anchor="middle" fill="#222">C</text>
<text x="134" y="1068.9" font-size="11" text-anchor="middle" fill="#222">9.1 Hz</text>
<rect x="32.7" y="1076.5" width="15.4" height="15" fill="#eb8f5e"/>
<text x="70.6" y="1088" font-size="11" text-anchor="middle" fill="#222">D</text>
<text x="134" y="1088" font-size="11" text-anchor="middle" fill="#222">18.3 Hz</text>
<rect x="32.7" y="1095.3" width="15.4" height="15" fill="#a6b962"/>
<text x="70.6" y="1106.8" font-size="11" text-anchor="middle" fill="#222">E</text>
<text x="134" y="1106.8" font-size="11" text-anchor="middle" fill="#222">36.5 Hz</text>
<rect x="32.7" y="1114.2" width="15.4" height="15" fill="#9b7a9b"/>
<text x="70.6" y="1125.7" font-size="11" text-anchor="middle" fill="#222">F</text>
<text x="134" y="1125.7" font-size="11" text-anchor="middle" fill="#222">73.0 Hz</text>
<rect x="32.7" y="1133.3" width="15.4" height="15" fill="#db6f9b"/>
<text x="70.6" y="1144.8" font-size="11" text-anchor="middle" fill="#222">G</text>
<text x="134" y="1144.8" font-size="11" text-anchor="middle" fill="#222">146.0 Hz</text>
<circle cx="40.3" cy="1023.4" r="3" fill="none" stroke="#d8a060" stroke-width="1"/>
<circle cx="68.3" cy="1165.5" r="3.9" fill="#1212d8" stroke="#05057a" stroke-width="1"/>
<polygon points="68.3,1180.5 62.6,1190.5 74,1190.5" fill="#33e633" stroke="#136613" stroke-width="1"/>
<rect x="64" y="1201.3" width="8.6" height="8.6" fill="#f07a1a" stroke="#7a3a10" stroke-width="1"/>
<rect x="57" y="1222" width="20" height="9.2" rx="4.6" fill="#e2a2ea" stroke="#b070c0" stroke-width="1"/>
<g font-size="9.5" fill="#222">
<text x="81.7" y="1168.5">Surface Point</text>
<text x="81.7" y="1188.5">Hidden Point</text>
<text x="81.7" y="1208.7">Covered Point</text>
<text x="81.7" y="1229.2">Area</text>
<text x="63.7" y="1249.9" textLength="77" lengthAdjust="spacingAndGlyphs">.C = Chinese Point</text>
<text x="64.2" y="1269" textLength="83.5" lengthAdjust="spacingAndGlyphs">.E = European Point</text>
<text x="48.1" y="1285.1" textLength="87" lengthAdjust="spacingAndGlyphs">CAPS = Master Point</text>
</g></g>
<g font-size="7.3" fill="#1a1a1a"><text x="25.8" y="1314" textLength="349" lengthAdjust="spacingAndGlyphs">Copyright © 2019 Miridia Techonlogy, Inc. All Rights Reserved. Do not reproduce without written permission.</text><text x="25.8" y="1322" textLength="81" lengthAdjust="spacingAndGlyphs">ISBN 978-0-9898696-5-2</text><text x="155.6" y="1322" textLength="208.7" lengthAdjust="spacingAndGlyphs">For more great acupuncture supplies, visit www.miridiatech.com.</text></g>
<text x="163" y="59.5" font-size="32.5" fill="#111" stroke="#fff" stroke-width="0.7" textLength="503" lengthAdjust="spacingAndGlyphs">Right Auricular Acupuncture Points</text>
<rect x="610.3" y="157.3" width="821.4" height="1339.5" fill="#fff" stroke="#858585" stroke-width="1.6"/>
<g clip-path="url(#clipR)"><use href="#ear"/></g>
<g stroke="#3a3020" stroke-width="0.85">
<line x1="1080.0" y1="234.0" x2="1040.2" y2="247.8"/>
<line x1="1186.0" y1="263.0" x2="1152.2" y2="304.4"/>
<line x1="1019.3" y1="266.0" x2="1019.3" y2="286.0"/>
<line x1="1022.0" y1="257.0" x2="983.0" y2="252.0"/>
<line x1="1091.0" y1="340.0" x2="1091.0" y2="355.0"/>
<line x1="1037.4" y1="329.0" x2="1036.5" y2="348.0"/>
<line x1="977.4" y1="327.0" x2="979.0" y2="343.7"/>
<line x1="989.0" y1="373.8" x2="1001.0" y2="387.3"/>
<line x1="1200.4" y1="383.6" x2="1173.7" y2="406.7"/>
<line x1="1117.4" y1="394.7" x2="1096.5" y2="385.0"/>
<line x1="1069.1" y1="415.0" x2="1069.1" y2="431.8"/>
<line x1="1307.0" y1="426.0" x2="1256.7" y2="449.4"/>
<line x1="1312.5" y1="453.3" x2="1277.1" y2="460.5"/>
<line x1="1132.7" y1="444.4" x2="1132.7" y2="459.7"/>
<line x1="1078.3" y1="458.3" x2="1077.5" y2="477.8"/>
<line x1="1049.9" y1="455.5" x2="1029.6" y2="454.1"/>
<line x1="1196.3" y1="511.3" x2="1181.5" y2="502.9"/>
<line x1="1180.1" y1="522.4" x2="1163.4" y2="521.6"/>
<line x1="1071.4" y1="502.9" x2="1050.5" y2="502.1"/>
<line x1="1051.9" y1="537.7" x2="1031.0" y2="529.4"/>
<line x1="1353.5" y1="516.8" x2="1299.1" y2="516.8"/>
<line x1="1286.0" y1="539.0" x2="1306.1" y2="583.2"/>
<line x1="1226.6" y1="546.7" x2="1226.6" y2="563.7"/>
<line x1="1193.5" y1="546.1" x2="1178.7" y2="547.0"/>
<line x1="1116.0" y1="549.0" x2="1096.5" y2="548.9"/>
<line x1="1197.4" y1="573.1" x2="1181.5" y2="572.0"/>
<line x1="1139.7" y1="572.6" x2="1157.8" y2="586.5"/>
<line x1="1121.6" y1="585.1" x2="1131.0" y2="597.7"/>
<line x1="1056.0" y1="567.6" x2="1043.5" y2="578.7"/>
<line x1="1023.4" y1="565.6" x2="1003.1" y2="555.3"/>
<line x1="1075.6" y1="595.4" x2="1087.5" y2="611.6"/>
<line x1="1036.5" y1="599.0" x2="1049.1" y2="608.3"/>
<line x1="1182.9" y1="601.9" x2="1165.6" y2="606.0"/>
<line x1="997.5" y1="422.0" x2="984.0" y2="404.0"/>
<line x1="888.6" y1="339.7" x2="897.6" y2="363.7"/>
<line x1="921.2" y1="363.7" x2="921.2" y2="381.3"/>
<line x1="901.1" y1="417.4" x2="884.6" y2="415.4"/>
<line x1="960.3" y1="438.0" x2="948.3" y2="425.5"/>
<line x1="931.2" y1="456.6" x2="937.7" y2="472.6"/>
<line x1="875.0" y1="443.0" x2="856.0" y2="443.0"/>
<line x1="891.0" y1="479.0" x2="877.0" y2="475.6"/>
<line x1="858.0" y1="492.0" x2="844.4" y2="488.2"/>
<line x1="869.5" y1="509.2" x2="857.5" y2="516.3"/>
<line x1="902.1" y1="528.3" x2="887.6" y2="524.3"/>
<line x1="1004.0" y1="586.0" x2="984.0" y2="576.0"/>
<line x1="1116.9" y1="650.7" x2="1081.8" y2="672.3"/>
<line x1="990.4" y1="647.2" x2="976.4" y2="653.8"/>
<line x1="918.7" y1="626.2" x2="918.7" y2="643.7"/>
<line x1="876.0" y1="632.2" x2="862.5" y2="599.6"/>
<line x1="894.6" y1="672.3" x2="899.6" y2="692.4"/>
<line x1="984.9" y1="687.4" x2="968.9" y2="678.8"/>
<line x1="1021.5" y1="679.8" x2="1048.6" y2="665.8"/>
<line x1="967.9" y1="696.4" x2="950.3" y2="696.4"/>
<line x1="1049.1" y1="693.9" x2="1046.6" y2="710.0"/>
<line x1="996.5" y1="725.0" x2="983.9" y2="716.0"/>
<line x1="941.3" y1="723.5" x2="921.2" y2="729.0"/>
<line x1="1085.3" y1="746.6" x2="1066.7" y2="749.1"/>
<line x1="958.8" y1="737.5" x2="946.3" y2="746.0"/>
<line x1="994.0" y1="765.1" x2="977.4" y2="752.6"/>
<line x1="903.6" y1="760.1" x2="891.1" y2="748.6"/>
<line x1="871.0" y1="755.1" x2="871.0" y2="770.2"/>
<line x1="986.4" y1="787.7" x2="964.8" y2="800.3"/>
<line x1="896.0" y1="804.0" x2="889.5" y2="813.0"/>
<line x1="1004.0" y1="807.8" x2="982.9" y2="817.8"/>
<line x1="936.2" y1="825.4" x2="926.2" y2="836.4"/>
<line x1="1021.5" y1="845.4" x2="1035.6" y2="860.5"/>
<line x1="996.5" y1="865.5" x2="984.9" y2="880.5"/>
<line x1="966.4" y1="864.0" x2="966.4" y2="878.0"/>
<line x1="915.0" y1="857.0" x2="896.1" y2="851.9"/>
<line x1="877.0" y1="875.0" x2="862.5" y2="879.0"/>
<line x1="1084.3" y1="899.1" x2="1069.2" y2="894.0"/>
<line x1="1011.5" y1="890.6" x2="997.0" y2="898.0"/>
<line x1="1364.0" y1="664.5" x2="1346.4" y2="679.6"/>
<line x1="1368.3" y1="741.0" x2="1320.6" y2="740.5"/>
<line x1="1347.7" y1="786.2" x2="1323.3" y2="785.7"/>
<line x1="1349.7" y1="825.8" x2="1326.4" y2="825.8"/>
<line x1="1335.6" y1="862.7" x2="1297.5" y2="859.4"/>
<line x1="1240.3" y1="624.9" x2="1220.2" y2="626.9"/>
<line x1="1254.9" y1="688.3" x2="1236.5" y2="689.1"/>
<line x1="1257.4" y1="754.8" x2="1248.1" y2="762.8"/>
<line x1="1259.9" y1="799.2" x2="1245.6" y2="799.0"/>
<line x1="1249.3" y1="842.6" x2="1232.3" y2="834.3"/>
<line x1="1223.5" y1="861.0" x2="1208.4" y2="852.7"/>
<line x1="1175.8" y1="855.2" x2="1162.0" y2="841.4"/>
<line x1="1217.2" y1="886.5" x2="1197.7" y2="879.0"/>
<line x1="1183.9" y1="904.1" x2="1183.9" y2="920.4"/>
<line x1="1143.2" y1="943.0" x2="1116.9" y2="926.7"/>
<line x1="1124.4" y1="625.1" x2="1111.9" y2="631.1"/>
<line x1="1128.9" y1="740.5" x2="1113.1" y2="728.5"/>
<line x1="1153.3" y1="743.0" x2="1140.7" y2="752.3"/>
<line x1="1125.7" y1="765.6" x2="1111.9" y2="781.2"/>
<line x1="1124.4" y1="811.3" x2="1147.0" y2="848.9"/>
<line x1="1122.4" y1="845.1" x2="1122.4" y2="855.2"/>
<line x1="1130.7" y1="867.7" x2="1095.5" y2="855.2"/>
<line x1="1295.2" y1="959.5" x2="1253.3" y2="959.0"/>
<line x1="1281.1" y1="1021.9" x2="1242.1" y2="1021.9"/>
<line x1="1179.7" y1="990.0" x2="1163.4" y2="989.6"/>
<line x1="1118.3" y1="972.2" x2="1105.6" y2="968.2"/>
<line x1="1055.5" y1="934.3" x2="1052.1" y2="957.7"/>
<line x1="1031.0" y1="944.3" x2="1029.4" y2="962.1"/>
<line x1="1110.0" y1="995.6" x2="1113.4" y2="989.3"/>
<line x1="1138.8" y1="1012.3" x2="1127.2" y2="1019.0"/>
<line x1="1077.1" y1="1027.9" x2="1072.6" y2="1013.4"/>
<line x1="1173.0" y1="1030.2" x2="1161.8" y2="1013.4"/>
<line x1="1131.7" y1="1049.1" x2="1134.4" y2="1032.4"/>
<line x1="1066.4" y1="1065.8" x2="1070.4" y2="1084.1"/>
<line x1="1106.1" y1="1097.0" x2="1097.1" y2="1109.3"/>
<line x1="1133.9" y1="1107.1" x2="1123.5" y2="1126.5"/>
<line x1="1210.4" y1="1122.7" x2="1147.3" y2="1124.3"/>
<line x1="1130.6" y1="1145.0" x2="1106.1" y2="1122.7"/>
<line x1="1195.3" y1="1143.9" x2="1165.8" y2="1135.0"/>
<line x1="1111.6" y1="1151.0" x2="1104.3" y2="1143.9"/>
<line x1="1082.6" y1="1164.0" x2="1091.1" y2="1152.1"/>
<line x1="1161.8" y1="1186.3" x2="1112.3" y2="1180.2"/>
<line x1="968.5" y1="920.9" x2="951.8" y2="915.3"/>
<line x1="977.4" y1="945.4" x2="984.6" y2="957.7"/>
<line x1="1019.8" y1="967.7" x2="1033.2" y2="987.8"/>
<line x1="893.8" y1="951.0" x2="910.1" y2="993.4"/>
<line x1="1009.8" y1="976.0" x2="996.4" y2="972.2"/>
<line x1="931.7" y1="964.4" x2="936.6" y2="1005.6"/>
<line x1="984.1" y1="996.7" x2="979.0" y2="1017.4"/>
<line x1="956.2" y1="1003.4" x2="959.6" y2="1015.7"/>
<line x1="920.6" y1="1016.8" x2="936.2" y2="1030.8"/>
<line x1="1026.5" y1="1016.8" x2="1006.9" y2="1010.1"/>
<line x1="1025.4" y1="1035.3" x2="1022.0" y2="1022.3"/>
<line x1="991.9" y1="1033.5" x2="997.0" y2="1024.6"/>
<line x1="952.9" y1="1035.7" x2="942.4" y2="1045.3"/>
<line x1="908.3" y1="1038.0" x2="934.6" y2="1054.7"/>
<line x1="975.2" y1="1050.2" x2="965.8" y2="1047.5"/>
<line x1="973.0" y1="1062.9" x2="950.0" y2="1054.0"/>
<line x1="975.2" y1="1075.9" x2="961.8" y2="1071.4"/>
<line x1="985.2" y1="1090.4" x2="973.6" y2="1088.6"/>
<line x1="879.3" y1="1061.4" x2="922.8" y2="1077.7"/>
<line x1="876.0" y1="1090.4" x2="907.2" y2="1081.0"/>
<line x1="932.8" y1="1093.7" x2="945.8" y2="1077.0"/>
<line x1="879.3" y1="1124.9" x2="880.9" y2="1110.4"/>
<line x1="853.7" y1="1139.4" x2="861.5" y2="1110.4"/>
<line x1="941.7" y1="1120.5" x2="950.0" y2="1112.2"/>
<line x1="1020.9" y1="1138.3" x2="997.0" y2="1110.4"/>
<line x1="959.6" y1="1145.0" x2="952.9" y2="1129.4"/>
<line x1="994.2" y1="1155.0" x2="991.3" y2="1138.3"/>
<line x1="911.2" y1="1153.9" x2="914.0" y2="1164.0"/>
<line x1="1038.8" y1="1174.0" x2="1048.8" y2="1158.4"/>
<line x1="966.3" y1="1176.2" x2="949.1" y2="1167.3"/>
<line x1="915.0" y1="1185.1" x2="876.0" y2="1172.2"/>
<line x1="851.4" y1="1180.7" x2="856.6" y2="1170.7"/>
<line x1="929.5" y1="1203.0" x2="921.2" y2="1207.4"/>
<line x1="879.3" y1="1198.5" x2="882.7" y2="1185.1"/>
<line x1="1082.2" y1="1216.4" x2="1070.0" y2="1212.0"/>
<line x1="959.6" y1="1224.2" x2="957.4" y2="1234.7"/>
<line x1="995.3" y1="1226.0" x2="1007.1" y2="1206.8"/>
<line x1="896.7" y1="1225.0" x2="896.7" y2="1215.3"/>
<line x1="929.5" y1="1238.7" x2="932.8" y2="1227.1"/>
<line x1="1031.4" y1="1241.0" x2="1027.2" y2="1233.8"/>
<line x1="987.5" y1="1253.0" x2="987.5" y2="1267.3"/>
<line x1="1114.6" y1="1251.0" x2="1106.8" y2="1243.2"/>
<line x1="1094.5" y1="1276.6" x2="1084.0" y2="1268.8"/>
<line x1="936.2" y1="1265.5" x2="924.4" y2="1259.2"/>
<line x1="1038.8" y1="1272.2" x2="1049.2" y2="1262.8"/>
<line x1="913.9" y1="1283.0" x2="913.9" y2="1271.1"/>
<line x1="1097.9" y1="1314.5" x2="1066.2" y2="1293.4"/>
<line x1="1079.6" y1="1324.6" x2="1046.1" y2="1294.5"/>
<line x1="1012.7" y1="1313.9" x2="993.0" y2="1307.9"/>
<line x1="876.0" y1="1312.0" x2="876.0" y2="1294.5"/>
<line x1="911.6" y1="1326.0" x2="911.6" y2="1311.2"/>
<line x1="915.0" y1="1372.0" x2="915.0" y2="1355.4"/>
<line x1="1029.8" y1="1418.2" x2="994.2" y2="1386.4"/>
<line x1="917.2" y1="1465.5" x2="902.7" y2="1438.8"/>
<line x1="1159.5" y1="1218.3" x2="1130.9" y2="1210.3"/>
<line x1="791.2" y1="302.2" x2="849.8" y2="328.3"/>
<line x1="778.3" y1="320.9" x2="832.7" y2="346.0"/>
<line x1="758.4" y1="345.0" x2="815.9" y2="364.4"/>
<line x1="698.9" y1="404.5" x2="731.9" y2="425.9"/>
<line x1="781.4" y1="425.4" x2="789.4" y2="433.2"/>
<line x1="720.8" y1="448.0" x2="778.3" y2="458.9"/>
<line x1="759.5" y1="473.1" x2="776.2" y2="479.8"/>
<line x1="708.3" y1="489.6" x2="757.4" y2="489.6"/>
<line x1="751.1" y1="511.2" x2="765.8" y2="502.8"/>
<line x1="815.9" y1="484.0" x2="826.0" y2="502.8"/>
<line x1="744.9" y1="554.0" x2="767.8" y2="560.9"/>
<line x1="821.8" y1="566.0" x2="821.8" y2="584.8"/>
<line x1="756.4" y1="589.6" x2="779.3" y2="589.6"/>
<line x1="792.9" y1="609.9" x2="826.4" y2="607.8"/>
<line x1="842.1" y1="618.0" x2="842.1" y2="593.1"/>
<line x1="768.9" y1="636.0" x2="784.6" y2="635.6"/>
<line x1="777.3" y1="691.8" x2="792.5" y2="691.4"/>
<line x1="842.1" y1="716.5" x2="867.2" y2="709.2"/>
<line x1="810.7" y1="740.5" x2="827.4" y2="740.5"/>
<line x1="827.4" y1="762.9" x2="850.4" y2="759.8"/>
<line x1="768.9" y1="787.6" x2="786.7" y2="798.0"/>
<line x1="835.8" y1="786.1" x2="855.0" y2="797.4"/>
<line x1="725.0" y1="805.8" x2="743.4" y2="805.3"/>
<line x1="735.4" y1="818.9" x2="758.0" y2="816.4"/>
<line x1="692.6" y1="831.9" x2="712.4" y2="831.9"/>
<line x1="727.1" y1="848.8" x2="750.5" y2="830.0"/>
<line x1="782.5" y1="838.0" x2="782.5" y2="830.9"/>
<line x1="736.5" y1="865.6" x2="758.9" y2="854.5"/>
<line x1="758.4" y1="869.1" x2="771.0" y2="861.4"/>
<line x1="827.4" y1="819.0" x2="833.3" y2="826.7"/>
<line x1="837.5" y1="847.2" x2="834.3" y2="861.8"/>
<line x1="739.6" y1="894.6" x2="758.4" y2="894.6"/>
<line x1="724.0" y1="924.3" x2="739.6" y2="913.9"/>
<line x1="785.2" y1="917.6" x2="775.6" y2="911.4"/>
<line x1="750.1" y1="963.6" x2="764.7" y2="946.9"/>
<line x1="796.1" y1="972.0" x2="799.2" y2="965.7"/>
<line x1="853.6" y1="962.6" x2="862.6" y2="970.3"/>
<line x1="851.5" y1="982.9" x2="866.7" y2="990.2"/>
<line x1="850.4" y1="1006.5" x2="857.8" y2="1012.3"/>
<line x1="850.4" y1="1034.7" x2="858.4" y2="1035.8"/>
<line x1="736.5" y1="1004.4" x2="750.5" y2="996.7"/>
<line x1="743.8" y1="1016.9" x2="762.6" y2="1007.5"/>
<line x1="738.6" y1="1038.3" x2="754.3" y2="1033.7"/>
<line x1="739.6" y1="1059.8" x2="762.2" y2="1059.8"/>
<line x1="775.2" y1="1074.4" x2="788.1" y2="1065.7"/>
<line x1="803.4" y1="1103.7" x2="813.8" y2="1106.8"/>
<line x1="808.6" y1="1118.3" x2="827.4" y2="1110.0"/>
<line x1="775.2" y1="1128.8" x2="792.9" y2="1129.8"/>
<line x1="787.3" y1="1141.3" x2="837.5" y2="1129.8"/>
<line x1="813.8" y1="1154.5" x2="828.5" y2="1153.5"/>
<line x1="771.0" y1="1169.6" x2="780.4" y2="1168.1"/>
<line x1="786.0" y1="1182.7" x2="801.0" y2="1170.7"/>
<line x1="774.0" y1="1197.4" x2="794.8" y2="1197.4"/>
<line x1="823.4" y1="1188.0" x2="829.3" y2="1172.1"/>
<line x1="780.7" y1="1237.4" x2="770.8" y2="1246.0"/>
<line x1="807.4" y1="1259.0" x2="807.4" y2="1273.4"/>
<line x1="759.4" y1="1276.1" x2="767.4" y2="1262.8"/>
<line x1="833.5" y1="1284.0" x2="833.5" y2="1271.6"/>
<line x1="764.5" y1="1304.5" x2="798.0" y2="1304.5"/>
<line x1="823.7" y1="1352.0" x2="823.7" y2="1338.0"/>
<line x1="739.4" y1="1396.5" x2="763.5" y2="1371.4"/>
<line x1="787.5" y1="1442.5" x2="825.2" y2="1389.2"/>
<line x1="837.3" y1="1465.5" x2="858.6" y2="1403.8"/>
</g>
<g clip-path="url(#clipR)"><use href="#earfg"/></g>
<g font-size="7.7" fill="#2a1e0e" style="-webkit-font-smoothing:antialiased">
<text x="1081.0" y="233.0" text-anchor="start">Apex of Ear</text>
<text x="1187.0" y="260.4" text-anchor="middle">Tonsil 1</text>
<text x="1020.0" y="294.4" text-anchor="middle">ALLERGY POINT</text>
<text x="981.0" y="254.0" text-anchor="end">ALLERGY</text>
<text x="1089.5" y="362.0" text-anchor="middle">Toes.C</text>
<text x="1036.5" y="353.8" text-anchor="middle">Foot.C</text>
<text x="980.0" y="350.0" text-anchor="middle">Heel.C</text>
<text x="990.4" y="369.5" text-anchor="middle">Ankle.C</text>
<text x="1202.0" y="384.4" text-anchor="start">Fingers</text>
<text x="1093.7" y="387.2" text-anchor="end">Appendix Disorder 1</text>
<text x="1066.0" y="411.5" text-anchor="middle">Thumb</text>
<text x="1309.7" y="426.2" text-anchor="start">Lesser Occipital Nerve</text>
<text x="1315.3" y="454.1" text-anchor="start">Liver Yang 1</text>
<text x="1132.0" y="468.9" text-anchor="middle">Calf.C</text>
<text x="1079.0" y="484.0" text-anchor="middle">Popliteal Fossa</text>
<text x="1026.8" y="456.1" text-anchor="end">Knee C.1</text>
<text x="1177.3" y="504.3" text-anchor="end">Skin Disorders.C</text>
<text x="1161.1" y="523.8" text-anchor="end">Hand</text>
<text x="1047.7" y="504.3" text-anchor="end">Thigh.C</text>
<text x="1029.6" y="531.3" text-anchor="end">SHEN MEN</text>
<text x="1355.7" y="519.1" text-anchor="start">Helix 1</text>
<text x="1301.3" y="535.0" text-anchor="end">Liver Yang 2</text>
<text x="1227.5" y="543.9" text-anchor="middle">Insomnia 1</text>
<text x="1176.7" y="549.7" text-anchor="end">Knee 2.C</text>
<text x="1117.4" y="551.7" text-anchor="start">Hip.C</text>
<text x="1179.5" y="573.1" text-anchor="end">Wrist</text>
<text x="1128.4" y="568.4" text-anchor="middle">Abdomen</text>
<text x="1118.0" y="581.0" text-anchor="middle">Heat</text>
<text x="1067.2" y="566.4" text-anchor="middle">Pelvis</text>
<text x="1001.1" y="556.4" text-anchor="end">Hip.E</text>
<text x="1074.5" y="592.1" text-anchor="middle">Lumbago</text>
<text x="1031.0" y="595.4" text-anchor="middle">Buttocks</text>
<text x="1183.4" y="601.9" text-anchor="start">Coxalgia</text>
<text x="984.0" y="400.4" text-anchor="end">Hepatitis</text>
<text x="883.0" y="335.1" text-anchor="middle">Toes.E</text>
<text x="924.0" y="387.8" text-anchor="middle">Hypertension 1</text>
<text x="902.6" y="418.9" text-anchor="start">Uterus.C</text>
<text x="973.0" y="443.0" text-anchor="middle">Cervix</text>
<text x="927.0" y="450.0" text-anchor="middle">Antihistamine</text>
<text x="853.5" y="443.0" text-anchor="end">Ankle.E</text>
<text x="893.6" y="482.2" text-anchor="start">Knee.E</text>
<text x="860.0" y="493.2" text-anchor="start">Calf.E</text>
<text x="871.0" y="507.7" text-anchor="start">Sciatic Nerve</text>
<text x="903.6" y="530.3" text-anchor="start">Thigh.E</text>
<text x="981.4" y="576.0" text-anchor="end">Groin</text>
<text x="1081.8" y="674.8" text-anchor="end">Heart.E</text>
<text x="973.9" y="656.3" text-anchor="end">Ureter.C</text>
<text x="924.0" y="650.7" text-anchor="middle">Bladder</text>
<text x="882.0" y="637.7" text-anchor="middle">Prostate.C</text>
<text x="892.0" y="666.3" text-anchor="middle">Large Intestine</text>
<text x="939.0" y="678.3" text-anchor="middle">Mercury Toxicity</text>
<text x="1019.0" y="688.4" text-anchor="middle">Kidney.C</text>
<text x="947.3" y="697.4" text-anchor="end">Omega 1</text>
<text x="1040.0" y="717.5" text-anchor="middle">Ascites</text>
<text x="1010.0" y="730.0" text-anchor="middle">Alcoholic</text>
<text x="918.7" y="730.0" text-anchor="end">Small Intestine</text>
<text x="1064.2" y="750.1" text-anchor="end">Gallbladder</text>
<text x="946.3" y="748.6" text-anchor="end">Appendix</text>
<text x="1012.0" y="767.7" text-anchor="middle">Duodenum</text>
<text x="924.0" y="765.1" text-anchor="middle">Diaphragm.C</text>
<text x="878.0" y="777.7" text-anchor="middle">Libido</text>
<text x="1011.0" y="785.2" text-anchor="middle">POINT ZERO</text>
<text x="900.4" y="796.7" text-anchor="middle">Esophagus</text>
<text x="1008.0" y="809.3" text-anchor="start">Stomach</text>
<text x="937.5" y="817.8" text-anchor="middle">Cardiac Orifice</text>
<text x="1021.0" y="840.4" text-anchor="middle">Diaphragm.E</text>
<text x="998.0" y="862.0" text-anchor="middle">Lung 1</text>
<text x="966.0" y="859.5" text-anchor="middle">Bronchi</text>
<text x="916.2" y="859.5" text-anchor="start">Vision 3</text>
<text x="878.5" y="877.0" text-anchor="start">Throat.E</text>
<text x="1098.0" y="880.5" text-anchor="middle">Cervical Ganglia</text>
<text x="1099.3" y="889.0" text-anchor="middle">(Middle)</text>
<text x="1066.7" y="894.0" text-anchor="end">Spleen.C</text>
<text x="996.5" y="900.6" text-anchor="end">Muscle Relaxation</text>
<text x="912.4" y="894.6" text-anchor="middle">Trachea</text>
<text x="1378.3" y="652.0" text-anchor="middle">Lumbosacral</text>
<text x="1378.3" y="660.2" text-anchor="middle">Spinal Cord</text>
<text x="1378.3" y="668.3" text-anchor="middle">Area</text>
<text x="1371.5" y="743.0" text-anchor="start">Helix 2</text>
<text x="1352.0" y="789.4" text-anchor="start">Skin Disorders.E</text>
<text x="1378.3" y="828.8" text-anchor="middle">Thoracic Spinal</text>
<text x="1378.3" y="836.9" text-anchor="middle">Cord Area</text>
<text x="1338.2" y="865.2" text-anchor="start">Tonsil 2</text>
<text x="1243.6" y="626.4" text-anchor="start">Forearm</text>
<text x="1258.6" y="690.3" text-anchor="start">Elbow</text>
<text x="1264.9" y="744.3" text-anchor="middle">Appendix</text>
<text x="1264.9" y="752.3" text-anchor="middle">Disorder 2</text>
<text x="1261.9" y="801.2" text-anchor="start">Arm</text>
<text x="1230.3" y="834.6" text-anchor="end">Breast</text>
<text x="1225.3" y="865.2" text-anchor="start">Clavicle.E</text>
<text x="1177.1" y="860.2" text-anchor="start">Chest</text>
<text x="1195.9" y="881.0" text-anchor="end">Shoulder</text>
<text x="1186.0" y="927.9" text-anchor="middle">Mammary Gland.C</text>
<text x="1145.0" y="945.5" text-anchor="start">Thyroid Gland.E</text>
<text x="1145.0" y="621.9" text-anchor="middle">Adrenal Gland.E</text>
<text x="1111.9" y="729.7" text-anchor="end">Pancreas</text>
<text x="1139.5" y="756.1" text-anchor="end">Thymus Gland</text>
<text x="1109.9" y="785.7" text-anchor="end">Spleen.E</text>
<text x="1140.7" y="807.5" text-anchor="end">Mammary Gland.E</text>
<text x="1123.0" y="842.1" text-anchor="middle">Liver</text>
<text x="1082.0" y="845.0" text-anchor="middle">Cervical Ganglia</text>
<text x="1080.5" y="853.0" text-anchor="middle">(Inferior)</text>
<text x="1208.4" y="715.4" text-anchor="middle">Intercostal</text>
<text x="1208.4" y="723.5" text-anchor="middle">Area</text>
<text x="1298.3" y="961.0" text-anchor="start">Helix 3</text>
<text x="1301.2" y="1018.3" text-anchor="middle">Cervical Spinal</text>
<text x="1301.2" y="1026.1" text-anchor="middle">Cord Area</text>
<text x="1198.6" y="988.5" text-anchor="middle">Shoulder</text>
<text x="1198.6" y="996.0" text-anchor="middle">Master</text>
<text x="1120.6" y="974.4" text-anchor="start">Thyroid Gland.C</text>
<text x="1082.0" y="930.5" text-anchor="end">Parathyroid Gland</text>
<text x="1051.0" y="939.8" text-anchor="end">Toothache 3</text>
<text x="1107.2" y="1007.9" text-anchor="middle">Cerebellum</text>
<text x="1126.6" y="1024.1" text-anchor="end">Insomnia 2</text>
<text x="1085.0" y="1035.3" text-anchor="middle">Neck</text>
<text x="1181.2" y="1037.5" text-anchor="middle">Appendix</text>
<text x="1181.2" y="1045.8" text-anchor="middle">Disorder 3</text>
<text x="1133.7" y="1055.8" text-anchor="middle">Clavicle.C</text>
<text x="1050.0" y="1010.1" text-anchor="middle">Dizziness</text>
<text x="1042.0" y="1022.3" text-anchor="middle">Occiput</text>
<text x="1037.0" y="1042.0" text-anchor="middle">Brainstem Point</text>
<text x="1064.0" y="1061.8" text-anchor="middle">TMJ</text>
<text x="1109.3" y="1092.6" text-anchor="middle">Antidepressant</text>
<text x="1141.7" y="1103.3" text-anchor="middle">Nephritis</text>
<text x="1213.1" y="1124.5" text-anchor="start">Tonsil 3</text>
<text x="1104.3" y="1124.5" text-anchor="end">Sexual Suppression</text>
<text x="1218.2" y="1147.2" text-anchor="middle">Upper Limb</text>
<text x="1218.2" y="1155.0" text-anchor="middle">Master</text>
<text x="1103.4" y="1138.8" text-anchor="end">Jaw (Lower)</text>
<text x="1078.6" y="1172.2" text-anchor="middle">Salivary</text>
<text x="1078.6" y="1179.6" text-anchor="middle">Gland.E</text>
<text x="1166.3" y="1188.5" text-anchor="start">Helix 4</text>
<text x="950.7" y="915.3" text-anchor="end">Heart.C</text>
<text x="852.5" y="915.3" text-anchor="middle">Pituitary Gland</text>
<text x="852.5" y="923.1" text-anchor="middle">Posterior</text>
<text x="969.0" y="941.0" text-anchor="middle">Lung 2</text>
<text x="1006.4" y="949.9" text-anchor="middle">Cervical</text>
<text x="1006.4" y="957.7" text-anchor="middle">Ganglia</text>
<text x="1006.4" y="965.5" text-anchor="middle">(Superior)</text>
<text x="891.6" y="938.7" text-anchor="middle">Hypothalamus</text>
<text x="891.6" y="946.5" text-anchor="middle">Anterior</text>
<text x="969.6" y="973.3" text-anchor="middle">Hypothalamus</text>
<text x="969.6" y="981.1" text-anchor="middle">Posterior</text>
<text x="932.5" y="959.5" text-anchor="middle">Epilepsy</text>
<text x="988.6" y="992.2" text-anchor="middle">Toothache 2</text>
<text x="953.5" y="997.8" text-anchor="middle">Asthma</text>
<text x="902.2" y="1011.2" text-anchor="middle">Salivary Gland.C</text>
<text x="988.6" y="1040.2" text-anchor="middle">Brain</text>
<text x="959.6" y="1032.4" text-anchor="middle">Temples</text>
<text x="888.2" y="1026.8" text-anchor="middle">Subcortex</text>
<text x="888.2" y="1034.6" text-anchor="middle">(Coronary)</text>
<text x="1004.6" y="1054.7" text-anchor="middle">Occipital Cortex</text>
<text x="994.1" y="1066.5" text-anchor="middle">Sex Glands</text>
<text x="999.2" y="1079.2" text-anchor="middle">Excitement</text>
<text x="1006.4" y="1093.3" text-anchor="middle">THALAMUS</text>
<text x="855.9" y="1058.0" text-anchor="middle">Subcortex</text>
<text x="855.9" y="1065.8" text-anchor="middle">(Nervous)</text>
<text x="855.3" y="1093.3" text-anchor="middle">Forehead</text>
<text x="916.1" y="1101.5" text-anchor="middle">Subcortex</text>
<text x="916.1" y="1109.3" text-anchor="middle">(Digestive)</text>
<text x="877.0" y="1131.6" text-anchor="middle">Vision 2</text>
<text x="860.0" y="1147.2" text-anchor="middle">Thyrotropins</text>
<text x="934.0" y="1128.3" text-anchor="middle">Memory 2</text>
<text x="1030.4" y="1145.0" text-anchor="middle">Hippocampus</text>
<text x="956.7" y="1150.6" text-anchor="middle">Auditory Line</text>
<text x="999.2" y="1162.8" text-anchor="middle">Temporal Cortex</text>
<text x="912.0" y="1170.7" text-anchor="middle">Striatum</text>
<text x="1032.6" y="1182.2" text-anchor="middle">Jaw (Upper)</text>
<text x="986.4" y="1179.6" text-anchor="middle">Midbrain</text>
<text x="986.4" y="1186.9" text-anchor="middle">Tectum</text>
<text x="938.7" y="1187.8" text-anchor="middle">Red Nucleus</text>
<text x="850.0" y="1187.4" text-anchor="middle">Amygdala</text>
<text x="960.7" y="1203.4" text-anchor="middle">Substantia Nigra</text>
<text x="879.5" y="1206.8" text-anchor="middle">Frontal Sinus</text>
<text x="1066.2" y="1212.6" text-anchor="end">Toothache 1</text>
<text x="964.0" y="1218.6" text-anchor="middle">Palate 2</text>
<text x="995.0" y="1232.0" text-anchor="middle">Tongue.E</text>
<text x="896.0" y="1233.8" text-anchor="middle">Palate 1</text>
<text x="929.2" y="1245.9" text-anchor="middle">Tongue.C</text>
<text x="1029.5" y="1248.1" text-anchor="middle">Vomiting</text>
<text x="988.2" y="1249.9" text-anchor="middle">Face</text>
<text x="1124.0" y="1257.0" text-anchor="middle">Pons</text>
<text x="1096.7" y="1280.0" text-anchor="start">Midbrain Tegmentum</text>
<text x="953.3" y="1269.3" text-anchor="middle">MASTER</text>
<text x="953.3" y="1277.3" text-anchor="middle">SENSORIAL</text>
<text x="1023.5" y="1278.4" text-anchor="middle">Sneezing</text>
<text x="913.0" y="1291.6" text-anchor="middle">Eye</text>
<text x="1099.6" y="1316.8" text-anchor="start">Trigeminal Nerve</text>
<text x="1083.4" y="1329.5" text-anchor="start">Helix 5</text>
<text x="991.5" y="1310.1" text-anchor="end">Ear (Inner).C</text>
<text x="873.7" y="1319.0" text-anchor="middle">Frontal Cortex</text>
<text x="914.0" y="1334.2" text-anchor="middle">Parietal Cortex</text>
<text x="914.6" y="1380.3" text-anchor="middle">Tonsil 4</text>
<text x="1040.0" y="1424.3" text-anchor="middle">Lips</text>
<text x="919.7" y="1473.6" text-anchor="middle">Helix 6</text>
<text x="1160.5" y="1220.8" text-anchor="start">Brainstem Area</text>
<text x="786.3" y="301.5" text-anchor="end">Kidney.E</text>
<text x="774.1" y="322.0" text-anchor="end">Hemorrhoids 1.C</text>
<text x="754.3" y="344.3" text-anchor="end">Omega 2</text>
<text x="674.8" y="396.2" text-anchor="middle">Psychosomatic</text>
<text x="674.8" y="403.9" text-anchor="middle">Reactions 1</text>
<text x="778.0" y="421.7" text-anchor="middle">Foot.E</text>
<text x="716.6" y="448.9" text-anchor="end">Ureter.E</text>
<text x="756.4" y="474.6" text-anchor="end">SYMPATHETIC AUTONOMIC POINT</text>
<text x="707.2" y="491.3" text-anchor="end">Genitals (External).C</text>
<text x="744.9" y="514.3" text-anchor="end">Heel.E</text>
<text x="813.3" y="479.2" text-anchor="middle">Constipation</text>
<text x="740.7" y="555.5" text-anchor="end">Uterus.E</text>
<text x="820.0" y="561.8" text-anchor="middle">Rectum.E</text>
<text x="753.2" y="591.0" text-anchor="end">Prostate.E or Vagina</text>
<text x="789.8" y="612.0" text-anchor="end">Hemorrhoids 2.C</text>
<text x="842.0" y="626.6" text-anchor="middle">Urethra.E</text>
<text x="766.8" y="637.0" text-anchor="end">Urethra.C</text>
<text x="775.2" y="692.9" text-anchor="end">Rectum.C</text>
<text x="836.8" y="718.0" text-anchor="end">Ovary.E or Testes.E</text>
<text x="806.5" y="742.0" text-anchor="end">Genitals (External).E</text>
<text x="820.1" y="764.0" text-anchor="end">Lower Limb Master</text>
<text x="747.0" y="786.5" text-anchor="middle">Interferon</text>
<text x="820.7" y="784.0" text-anchor="middle">Mouth</text>
<text x="724.0" y="807.4" text-anchor="end">Ear (External).C</text>
<text x="733.4" y="820.6" text-anchor="end">Throat.C</text>
<text x="679.0" y="831.5" text-anchor="middle">Nose</text>
<text x="679.0" y="839.4" text-anchor="middle">(External).C</text>
<text x="713.0" y="852.0" text-anchor="middle">Vitality</text>
<text x="781.0" y="844.4" text-anchor="middle">Apex of Tragus</text>
<text x="734.4" y="867.6" text-anchor="end">Ear (Auditory).E</text>
<text x="772.7" y="859.7" text-anchor="start">Thirst</text>
<text x="825.3" y="807.4" text-anchor="middle">Parasympathetic</text>
<text x="825.3" y="816.2" text-anchor="middle">Sacral Nerves</text>
<text x="842.0" y="841.9" text-anchor="middle">Vagus Nerve</text>
<text x="814.9" y="876.4" text-anchor="middle">Adrenal</text>
<text x="814.9" y="884.8" text-anchor="middle">Gland.C</text>
<text x="736.5" y="895.7" text-anchor="end">MASTER OSCILLATION</text>
<text x="719.8" y="926.4" text-anchor="end">Appetite Control</text>
<text x="799.2" y="920.1" text-anchor="middle">Corpus</text>
<text x="799.2" y="928.1" text-anchor="middle">Callosum</text>
<text x="737.1" y="970.3" text-anchor="middle">Reticular</text>
<text x="737.1" y="978.3" text-anchor="middle">Formation</text>
<text x="787.0" y="979.3" text-anchor="middle">Nicotine</text>
<text x="850.4" y="962.0" text-anchor="end">San Jiao</text>
<text x="848.3" y="982.4" text-anchor="end">Prolactin</text>
<text x="833.3" y="1001.7" text-anchor="middle">Pituitary Gland</text>
<text x="833.3" y="1009.2" text-anchor="middle">Anterior</text>
<text x="832.7" y="1025.9" text-anchor="middle">Parasympathetic</text>
<text x="832.7" y="1034.3" text-anchor="middle">Cranial</text>
<text x="832.7" y="1042.0" text-anchor="middle">Nerves</text>
<text x="734.4" y="1006.9" text-anchor="end">Hypertension 2</text>
<text x="741.7" y="1019.0" text-anchor="end">Nose (Inner).C</text>
<text x="735.4" y="1040.6" text-anchor="end">TRANQUILIZER</text>
<text x="736.1" y="1061.9" text-anchor="end">ACTH</text>
<text x="761.5" y="1076.5" text-anchor="middle">Mania</text>
<text x="801.3" y="1104.8" text-anchor="end">Vision 1</text>
<text x="804.9" y="1120.0" text-anchor="end">ENDOCRINE</text>
<text x="772.7" y="1129.8" text-anchor="end">Pineal Gland</text>
<text x="783.5" y="1143.8" text-anchor="end">Cingulate Gyrus</text>
<text x="810.7" y="1156.0" text-anchor="end">Nucleus Accumbens</text>
<text x="767.8" y="1171.7" text-anchor="end">Olfactory Bulb</text>
<text x="784.7" y="1186.7" text-anchor="end">Limbic Brain</text>
<text x="770.0" y="1198.7" text-anchor="end">Olfactory Nerve</text>
<text x="803.4" y="1196.6" text-anchor="start">Hypotension</text>
<text x="802.7" y="1230.2" text-anchor="middle">Optic Nerve</text>
<text x="809.4" y="1254.8" text-anchor="middle">Prefrontal Cortex</text>
<text x="750.7" y="1282.0" text-anchor="middle">MASTER CEREBRAL</text>
<text x="830.0" y="1291.6" text-anchor="middle">Dental Analgesia 1</text>
<text x="762.4" y="1305.6" text-anchor="end">Nose (External).E</text>
<text x="823.0" y="1360.0" text-anchor="middle">Dental Analgesia 2</text>
<text x="737.0" y="1403.8" text-anchor="middle">Prostaglandin</text>
<text x="785.0" y="1448.8" text-anchor="middle">Anxious</text>
<text x="835.6" y="1472.8" text-anchor="middle">Psychosomatic Reactions 2</text>
<text x="0" y="0" font-size="7.8" text-anchor="middle" dominant-baseline="central" transform="translate(1166.2,437.4) rotate(57)">Allergic Area</text>
<text x="0" y="0" font-size="7.8" text-anchor="middle" dominant-baseline="central" transform="translate(1296.3,680.8) rotate(83)">Sympathetic Preganglionic Nerves Area</text>
<text x="0" y="0" font-size="7.8" text-anchor="middle" dominant-baseline="central" transform="translate(1082.0,621.0) rotate(27)">Thoracic Spine</text>
<text x="0" y="0" font-size="7.8" text-anchor="middle" dominant-baseline="central" transform="translate(929.0,569.0) rotate(25)">Lumbar Spine</text>
<text x="0" y="0" font-size="7.6" text-anchor="middle" dominant-baseline="central" transform="translate(1006.5,625.0) rotate(20)">Sympathetic Postganglionic Nerves Area</text>
<text x="0" y="0" font-size="7.8" text-anchor="middle" dominant-baseline="central" transform="translate(1122.0,904.0) rotate(-52)">Cervical Spine</text>
<text x="0" y="0" font-size="7.4" text-anchor="middle" dominant-baseline="central" transform="translate(1077.0,982.0) rotate(-48)">Neurasthenia</text>
<text x="0" y="0" font-size="7.4" text-anchor="middle" dominant-baseline="central" transform="translate(1083.5,991.5) rotate(-48)">Area</text>
<text x="0" y="0" font-size="7.2" text-anchor="middle" dominant-baseline="central" transform="translate(1032.5,1344.0) rotate(-57)">Trigeminal</text>
<text x="0" y="0" font-size="7.2" text-anchor="middle" dominant-baseline="central" transform="translate(1041.0,1350.0) rotate(-57)">Nucleus Area</text>
<text x="0" y="0" font-size="7.5" text-anchor="middle" dominant-baseline="central" transform="translate(829.5,521.6) rotate(30)">Sacral Spine</text>
</g>
<g transform="translate(1228,152.8)">
<rect x="25.8" y="963" width="158" height="332.5" rx="2.5" fill="#fff" stroke="#2b2b2b" stroke-width="2"/>
<text x="103.3" y="987.2" font-size="16.3" text-anchor="middle" fill="#222">Legend</text>
<text x="70" y="1006.8" font-size="11.8" text-anchor="middle" fill="#222">Nogier</text>
<text x="134" y="1006.8" font-size="11.8" text-anchor="middle" fill="#222">Frequency</text>
<line x1="51" y1="1012.5" x2="164.5" y2="1012.5" stroke="#9a9a9a" stroke-width="1"/>
<line x1="95.5" y1="1014" x2="95.5" y2="1146" stroke="#555" stroke-width="1"/>
<rect x="32.7" y="1019.4" width="15.4" height="15" fill="#e8936a"/>
<text x="70.6" y="1030.9" font-size="11" text-anchor="middle" fill="#222">A</text>
<text x="134" y="1030.9" font-size="11" text-anchor="middle" fill="#222">2.3 Hz</text>
<rect x="32.7" y="1038.3" width="15.4" height="15" fill="#d0574a"/>
<text x="70.6" y="1049.8" font-size="11" text-anchor="middle" fill="#222">B</text>
<text x="134" y="1049.8" font-size="11" text-anchor="middle" fill="#222">4.6 Hz</text>
<rect x="32.7" y="1057.4" width="15.4" height="15" fill="#e2b043"/>
<text x="70.6" y="1068.9" font-size="11" text-anchor="middle" fill="#222">C</text>
<text x="134" y="1068.9" font-size="11" text-anchor="middle" fill="#222">9.1 Hz</text>
<rect x="32.7" y="1076.5" width="15.4" height="15" fill="#eb8f5e"/>
<text x="70.6" y="1088" font-size="11" text-anchor="middle" fill="#222">D</text>
<text x="134" y="1088" font-size="11" text-anchor="middle" fill="#222">18.3 Hz</text>
<rect x="32.7" y="1095.3" width="15.4" height="15" fill="#a6b962"/>
<text x="70.6" y="1106.8" font-size="11" text-anchor="middle" fill="#222">E</text>
<text x="134" y="1106.8" font-size="11" text-anchor="middle" fill="#222">36.5 Hz</text>
<rect x="32.7" y="1114.2" width="15.4" height="15" fill="#9b7a9b"/>
<text x="70.6" y="1125.7" font-size="11" text-anchor="middle" fill="#222">F</text>
<text x="134" y="1125.7" font-size="11" text-anchor="middle" fill="#222">73.0 Hz</text>
<rect x="32.7" y="1133.3" width="15.4" height="15" fill="#db6f9b"/>
<text x="70.6" y="1144.8" font-size="11" text-anchor="middle" fill="#222">G</text>
<text x="134" y="1144.8" font-size="11" text-anchor="middle" fill="#222">146.0 Hz</text>
<circle cx="40.3" cy="1023.4" r="3" fill="none" stroke="#d8a060" stroke-width="1"/>
<circle cx="68.3" cy="1165.5" r="3.9" fill="#1212d8" stroke="#05057a" stroke-width="1"/>
<polygon points="68.3,1180.5 62.6,1190.5 74,1190.5" fill="#33e633" stroke="#136613" stroke-width="1"/>
<rect x="64" y="1201.3" width="8.6" height="8.6" fill="#f07a1a" stroke="#7a3a10" stroke-width="1"/>
<rect x="57" y="1222" width="20" height="9.2" rx="4.6" fill="#e2a2ea" stroke="#b070c0" stroke-width="1"/>
<g font-size="9.5" fill="#222">
<text x="81.7" y="1168.5">Surface Point</text>
<text x="81.7" y="1188.5">Hidden Point</text>
<text x="81.7" y="1208.7">Covered Point</text>
<text x="81.7" y="1229.2">Area</text>
<text x="63.7" y="1249.9" textLength="77" lengthAdjust="spacingAndGlyphs">.C = Chinese Point</text>
<text x="64.2" y="1269" textLength="83.5" lengthAdjust="spacingAndGlyphs">.E = European Point</text>
<text x="48.1" y="1285.1" textLength="87" lengthAdjust="spacingAndGlyphs">CAPS = Master Point</text>
</g></g>
<g font-size="7.3" fill="#1a1a1a"><text x="1061.6" y="1466.8" textLength="349.4" lengthAdjust="spacingAndGlyphs">Copyright © 2019 Miridia Techonlogy, Inc. All Rights Reserved. Do not reproduce without written permission.</text><text x="1073.2" y="1475.3" textLength="81.2" lengthAdjust="spacingAndGlyphs">ISBN 978-0-9898696-5-2</text><text x="1202.1" y="1475.3" textLength="209" lengthAdjust="spacingAndGlyphs">For more great acupuncture supplies, visit www.miridiatech.com.</text></g>
<text x="778" y="213.5" font-size="32.5" fill="#111" stroke="#fff" stroke-width="0.7" textLength="484" lengthAdjust="spacingAndGlyphs">Left Auricular Acupuncture Points</text>
</svg></body></html>
